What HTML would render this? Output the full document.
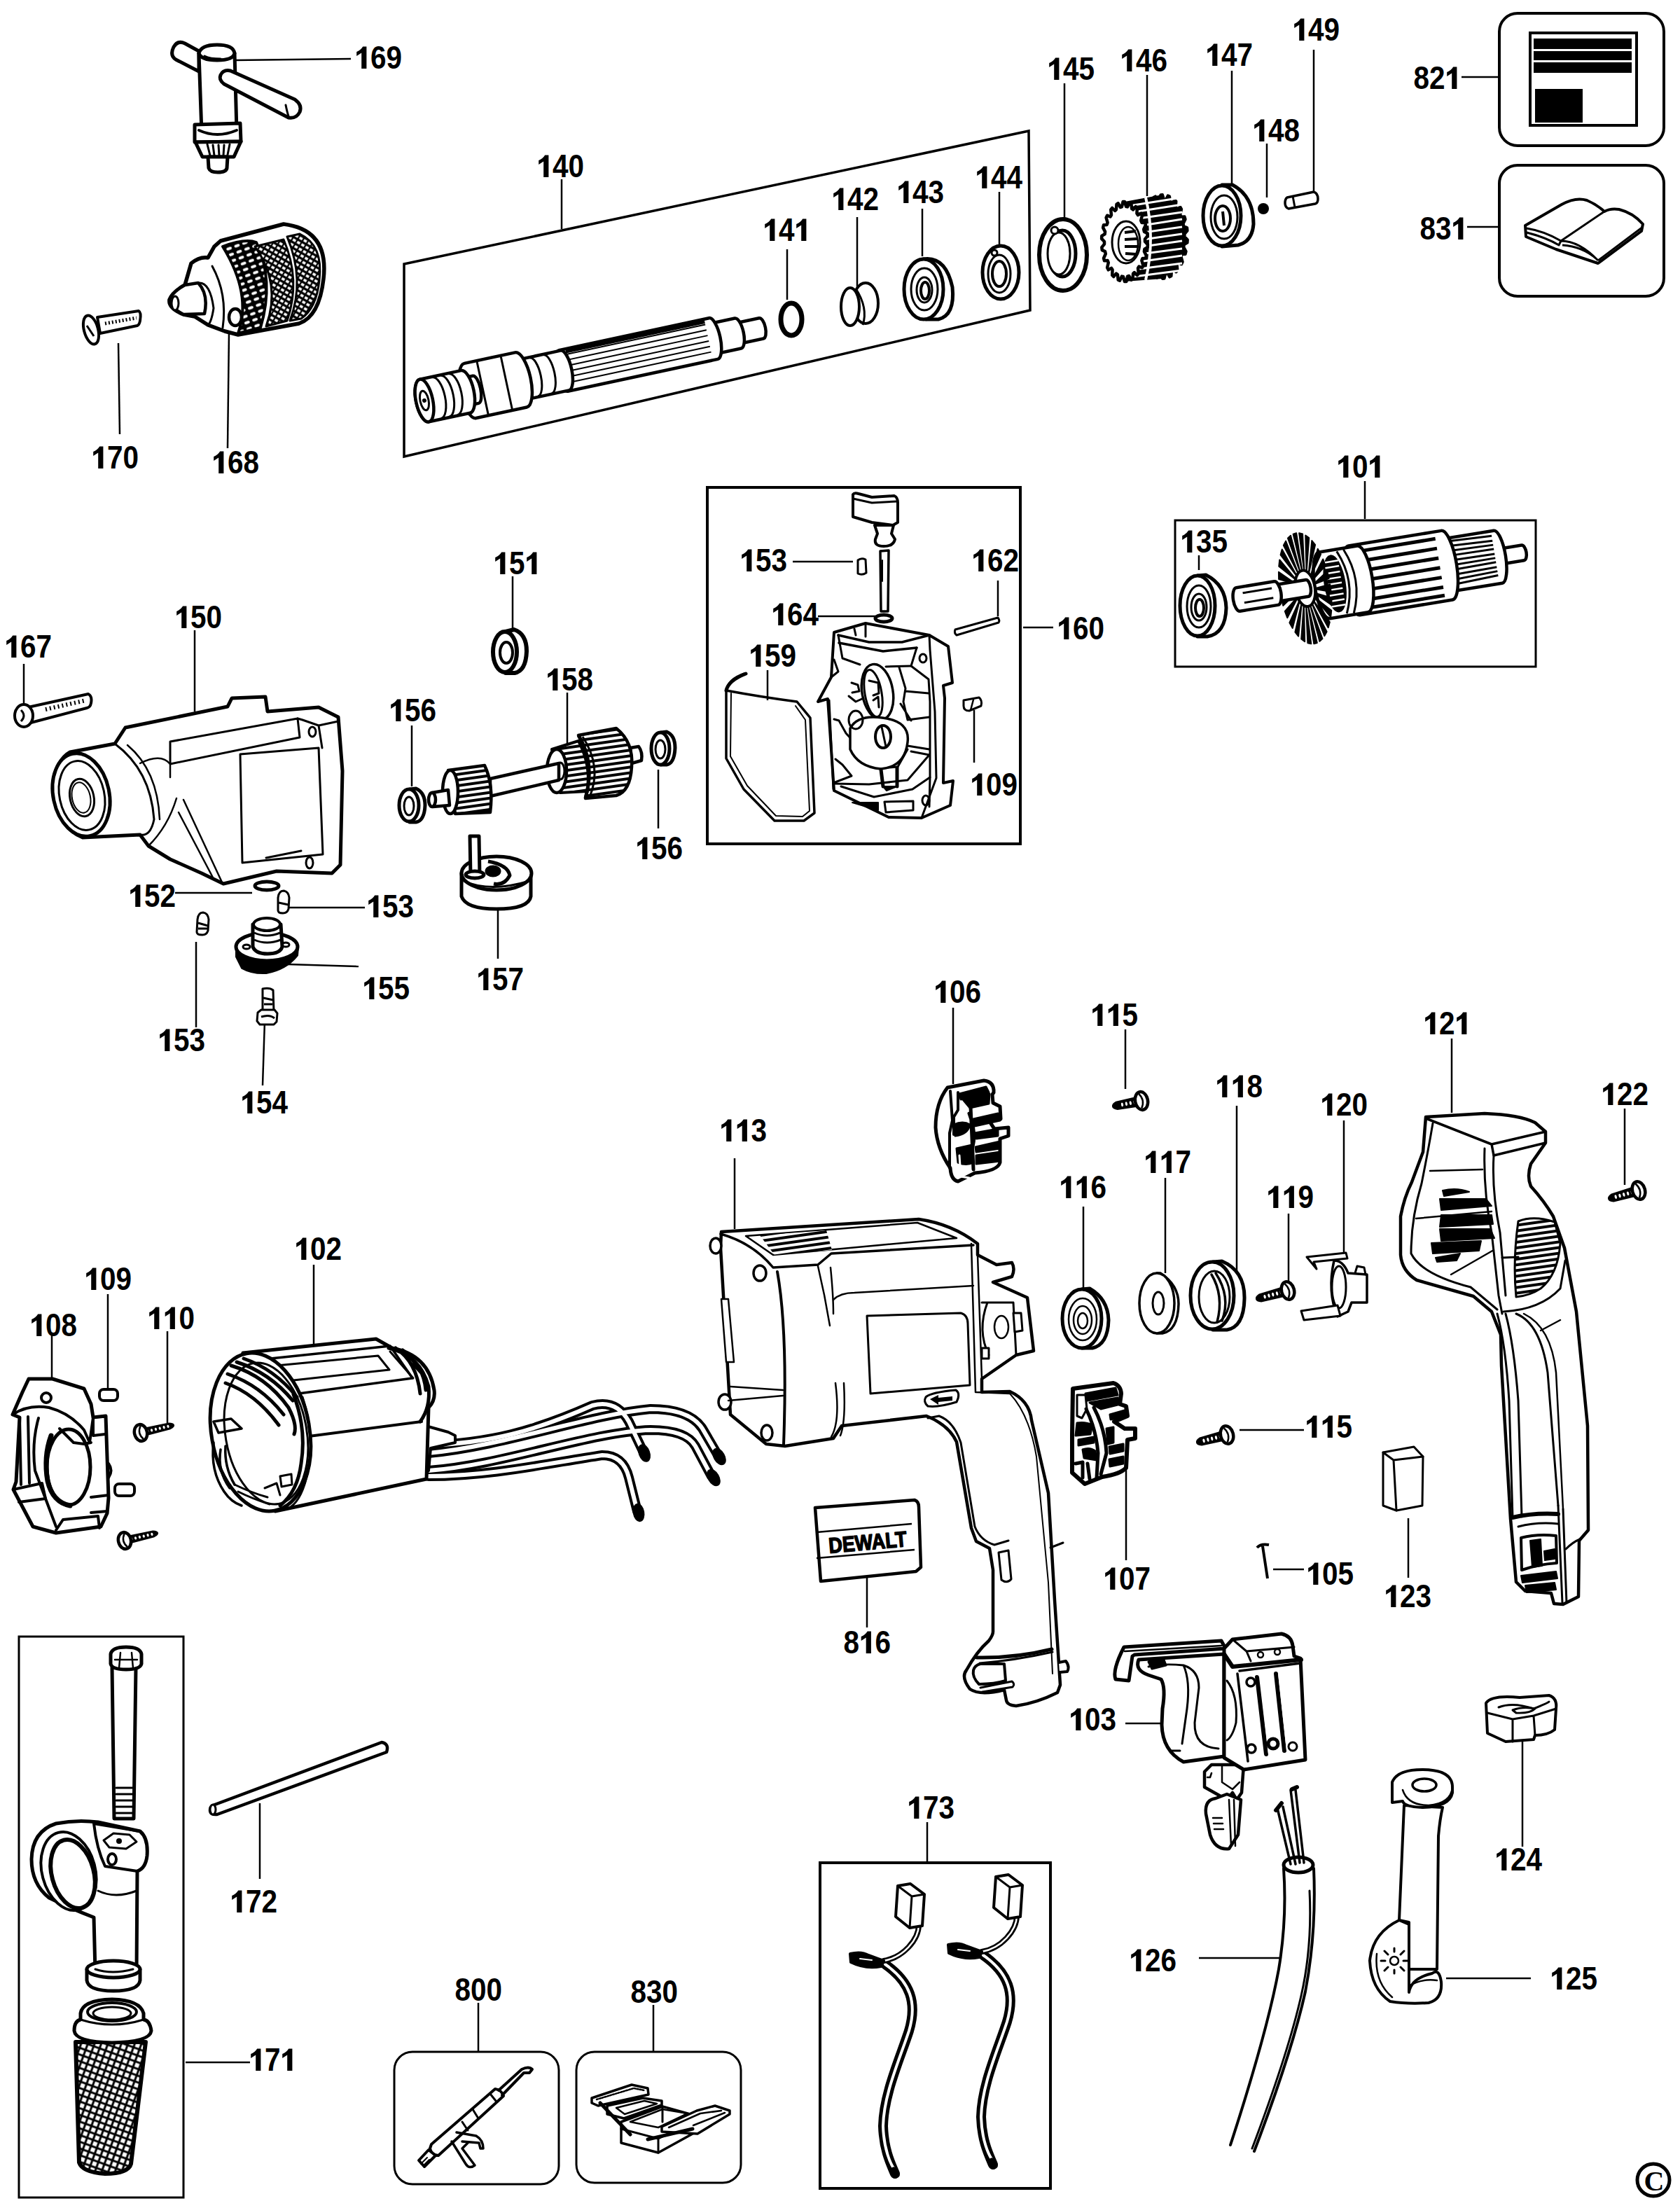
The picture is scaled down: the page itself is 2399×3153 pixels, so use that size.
<!DOCTYPE html><html><head><meta charset="utf-8"><style>html,body{margin:0;padding:0;background:#fff;}svg{display:block;}</style></head><body>
<svg width="2399" height="3153" viewBox="0 0 2399 3153">
<rect width="100%" height="100%" fill="#fff"/>
<g font-family="Liberation Sans, sans-serif" font-weight="bold" font-size="44" text-anchor="middle" fill="#000">
<path d="M516.2 66.5 L523.4 66.5 L523.4 98 L516.2 98 L516.2 75.5 L509.2 80 L509.2 74 Q514.7 72 518.2 66.5 Z" stroke="none"/>
<text transform="translate(540.2 98) scale(0.92 1.03)">6</text>
<text transform="translate(562.7 98) scale(0.92 1.03)">9</text>
<path d="M776.2 221.5 L783.4 221.5 L783.4 253 L776.2 253 L776.2 230.5 L769.2 235 L769.2 229 Q774.7 227 778.2 221.5 Z" stroke="none"/>
<text transform="translate(800.2 253) scale(0.92 1.03)">4</text>
<text transform="translate(822.7 253) scale(0.92 1.03)">0</text>
<path d="M1099.2 312.5 L1106.4 312.5 L1106.4 344 L1099.2 344 L1099.2 321.5 L1092.2 326 L1092.2 320 Q1097.7 318 1101.2 312.5 Z" stroke="none"/>
<text transform="translate(1123.2 344) scale(0.92 1.03)">4</text>
<path d="M1144.2 312.5 L1151.4 312.5 L1151.4 344 L1144.2 344 L1144.2 321.5 L1137.2 326 L1137.2 320 Q1142.7 318 1146.2 312.5 Z" stroke="none"/>
<path d="M1197.2 268.5 L1204.4 268.5 L1204.4 300 L1197.2 300 L1197.2 277.5 L1190.2 282 L1190.2 276 Q1195.7 274 1199.2 268.5 Z" stroke="none"/>
<text transform="translate(1221.2 300) scale(0.92 1.03)">4</text>
<text transform="translate(1243.7 300) scale(0.92 1.03)">2</text>
<path d="M1290.2 258.5 L1297.4 258.5 L1297.4 290 L1290.2 290 L1290.2 267.5 L1283.2 272 L1283.2 266 Q1288.7 264 1292.2 258.5 Z" stroke="none"/>
<text transform="translate(1314.2 290) scale(0.92 1.03)">4</text>
<text transform="translate(1336.7 290) scale(0.92 1.03)">3</text>
<path d="M1402.2 237.5 L1409.4 237.5 L1409.4 269 L1402.2 269 L1402.2 246.5 L1395.2 251 L1395.2 245 Q1400.7 243 1404.2 237.5 Z" stroke="none"/>
<text transform="translate(1426.2 269) scale(0.92 1.03)">4</text>
<text transform="translate(1448.7 269) scale(0.92 1.03)">4</text>
<path d="M1505.2 82.5 L1512.4 82.5 L1512.4 114 L1505.2 114 L1505.2 91.5 L1498.2 96 L1498.2 90 Q1503.7 88 1507.2 82.5 Z" stroke="none"/>
<text transform="translate(1529.2 114) scale(0.92 1.03)">4</text>
<text transform="translate(1551.7 114) scale(0.92 1.03)">5</text>
<path d="M1609.2 70.5 L1616.4 70.5 L1616.4 102 L1609.2 102 L1609.2 79.5 L1602.2 84 L1602.2 78 Q1607.7 76 1611.2 70.5 Z" stroke="none"/>
<text transform="translate(1633.2 102) scale(0.92 1.03)">4</text>
<text transform="translate(1655.7 102) scale(0.92 1.03)">6</text>
<path d="M1731.2 62.5 L1738.4 62.5 L1738.4 94 L1731.2 94 L1731.2 71.5 L1724.2 76 L1724.2 70 Q1729.7 68 1733.2 62.5 Z" stroke="none"/>
<text transform="translate(1755.2 94) scale(0.92 1.03)">4</text>
<text transform="translate(1777.7 94) scale(0.92 1.03)">7</text>
<path d="M1798.2 170.5 L1805.4 170.5 L1805.4 202 L1798.2 202 L1798.2 179.5 L1791.2 184 L1791.2 178 Q1796.7 176 1800.2 170.5 Z" stroke="none"/>
<text transform="translate(1822.2 202) scale(0.92 1.03)">4</text>
<text transform="translate(1844.7 202) scale(0.92 1.03)">8</text>
<path d="M1855.2 26.5 L1862.4 26.5 L1862.4 58 L1855.2 58 L1855.2 35.5 L1848.2 40 L1848.2 34 Q1853.7 32 1857.2 26.5 Z" stroke="none"/>
<text transform="translate(1879.2 58) scale(0.92 1.03)">4</text>
<text transform="translate(1901.7 58) scale(0.92 1.03)">9</text>
<text transform="translate(2029.7 127) scale(0.92 1.03)">8</text>
<text transform="translate(2052.2 127) scale(0.92 1.03)">2</text>
<path d="M2073.2 95.5 L2080.4 95.5 L2080.4 127 L2073.2 127 L2073.2 104.5 L2066.2 109 L2066.2 103 Q2071.7 101 2075.2 95.5 Z" stroke="none"/>
<text transform="translate(2038.7 342) scale(0.92 1.03)">8</text>
<text transform="translate(2061.2 342) scale(0.92 1.03)">3</text>
<path d="M2082.2 310.5 L2089.4 310.5 L2089.4 342 L2082.2 342 L2082.2 319.5 L2075.2 324 L2075.2 318 Q2080.7 316 2084.2 310.5 Z" stroke="none"/>
<path d="M140.2 637.5 L147.4 637.5 L147.4 669 L140.2 669 L140.2 646.5 L133.2 651 L133.2 645 Q138.7 643 142.2 637.5 Z" stroke="none"/>
<text transform="translate(164.2 669) scale(0.92 1.03)">7</text>
<text transform="translate(186.7 669) scale(0.92 1.03)">0</text>
<path d="M312.2 644.5 L319.4 644.5 L319.4 676 L312.2 676 L312.2 653.5 L305.2 658 L305.2 652 Q310.7 650 314.2 644.5 Z" stroke="none"/>
<text transform="translate(336.2 676) scale(0.92 1.03)">6</text>
<text transform="translate(358.7 676) scale(0.92 1.03)">8</text>
<path d="M1918.2 650.5 L1925.4 650.5 L1925.4 682 L1918.2 682 L1918.2 659.5 L1911.2 664 L1911.2 658 Q1916.7 656 1920.2 650.5 Z" stroke="none"/>
<text transform="translate(1942.2 682) scale(0.92 1.03)">0</text>
<path d="M1963.2 650.5 L1970.4 650.5 L1970.4 682 L1963.2 682 L1963.2 659.5 L1956.2 664 L1956.2 658 Q1961.7 656 1965.2 650.5 Z" stroke="none"/>
<path d="M1695.2 757.5 L1702.4 757.5 L1702.4 789 L1695.2 789 L1695.2 766.5 L1688.2 771 L1688.2 765 Q1693.7 763 1697.2 757.5 Z" stroke="none"/>
<text transform="translate(1719.2 789) scale(0.92 1.03)">3</text>
<text transform="translate(1741.7 789) scale(0.92 1.03)">5</text>
<path d="M714.2 788.5 L721.4 788.5 L721.4 820 L714.2 820 L714.2 797.5 L707.2 802 L707.2 796 Q712.7 794 716.2 788.5 Z" stroke="none"/>
<text transform="translate(738.2 820) scale(0.92 1.03)">5</text>
<path d="M759.2 788.5 L766.4 788.5 L766.4 820 L759.2 820 L759.2 797.5 L752.2 802 L752.2 796 Q757.7 794 761.2 788.5 Z" stroke="none"/>
<path d="M259.2 865.5 L266.4 865.5 L266.4 897 L259.2 897 L259.2 874.5 L252.2 879 L252.2 873 Q257.7 871 261.2 865.5 Z" stroke="none"/>
<text transform="translate(283.2 897) scale(0.92 1.03)">5</text>
<text transform="translate(305.7 897) scale(0.92 1.03)">0</text>
<path d="M16.2 907.5 L23.4 907.5 L23.4 939 L16.2 939 L16.2 916.5 L9.2 921 L9.2 915 Q14.7 913 18.2 907.5 Z" stroke="none"/>
<text transform="translate(40.2 939) scale(0.92 1.03)">6</text>
<text transform="translate(62.7 939) scale(0.92 1.03)">7</text>
<path d="M1066.2 784.5 L1073.4 784.5 L1073.4 816 L1066.2 816 L1066.2 793.5 L1059.2 798 L1059.2 792 Q1064.7 790 1068.2 784.5 Z" stroke="none"/>
<text transform="translate(1090.2 816) scale(0.92 1.03)">5</text>
<text transform="translate(1112.7 816) scale(0.92 1.03)">3</text>
<path d="M1397.2 784.5 L1404.4 784.5 L1404.4 816 L1397.2 816 L1397.2 793.5 L1390.2 798 L1390.2 792 Q1395.7 790 1399.2 784.5 Z" stroke="none"/>
<text transform="translate(1421.2 816) scale(0.92 1.03)">6</text>
<text transform="translate(1443.7 816) scale(0.92 1.03)">2</text>
<path d="M1111.2 861.5 L1118.4 861.5 L1118.4 893 L1111.2 893 L1111.2 870.5 L1104.2 875 L1104.2 869 Q1109.7 867 1113.2 861.5 Z" stroke="none"/>
<text transform="translate(1135.2 893) scale(0.92 1.03)">6</text>
<text transform="translate(1157.7 893) scale(0.92 1.03)">4</text>
<path d="M1519.2 881.5 L1526.4 881.5 L1526.4 913 L1519.2 913 L1519.2 890.5 L1512.2 895 L1512.2 889 Q1517.7 887 1521.2 881.5 Z" stroke="none"/>
<text transform="translate(1543.2 913) scale(0.92 1.03)">6</text>
<text transform="translate(1565.7 913) scale(0.92 1.03)">0</text>
<path d="M1079.2 920.5 L1086.4 920.5 L1086.4 952 L1079.2 952 L1079.2 929.5 L1072.2 934 L1072.2 928 Q1077.7 926 1081.2 920.5 Z" stroke="none"/>
<text transform="translate(1103.2 952) scale(0.92 1.03)">5</text>
<text transform="translate(1125.7 952) scale(0.92 1.03)">9</text>
<path d="M789.2 954.5 L796.4 954.5 L796.4 986 L789.2 986 L789.2 963.5 L782.2 968 L782.2 962 Q787.7 960 791.2 954.5 Z" stroke="none"/>
<text transform="translate(813.2 986) scale(0.92 1.03)">5</text>
<text transform="translate(835.7 986) scale(0.92 1.03)">8</text>
<path d="M565.2 998.5 L572.4 998.5 L572.4 1030 L565.2 1030 L565.2 1007.5 L558.2 1012 L558.2 1006 Q563.7 1004 567.2 998.5 Z" stroke="none"/>
<text transform="translate(589.2 1030) scale(0.92 1.03)">5</text>
<text transform="translate(611.7 1030) scale(0.92 1.03)">6</text>
<path d="M1395.2 1104.5 L1402.4 1104.5 L1402.4 1136 L1395.2 1136 L1395.2 1113.5 L1388.2 1118 L1388.2 1112 Q1393.7 1110 1397.2 1104.5 Z" stroke="none"/>
<text transform="translate(1419.2 1136) scale(0.92 1.03)">0</text>
<text transform="translate(1441.7 1136) scale(0.92 1.03)">9</text>
<path d="M917.2 1195.5 L924.4 1195.5 L924.4 1227 L917.2 1227 L917.2 1204.5 L910.2 1209 L910.2 1203 Q915.7 1201 919.2 1195.5 Z" stroke="none"/>
<text transform="translate(941.2 1227) scale(0.92 1.03)">5</text>
<text transform="translate(963.7 1227) scale(0.92 1.03)">6</text>
<path d="M193.2 1263.5 L200.4 1263.5 L200.4 1295 L193.2 1295 L193.2 1272.5 L186.2 1277 L186.2 1271 Q191.7 1269 195.2 1263.5 Z" stroke="none"/>
<text transform="translate(217.2 1295) scale(0.92 1.03)">5</text>
<text transform="translate(239.7 1295) scale(0.92 1.03)">2</text>
<path d="M533.2 1278.5 L540.4 1278.5 L540.4 1310 L533.2 1310 L533.2 1287.5 L526.2 1292 L526.2 1286 Q531.7 1284 535.2 1278.5 Z" stroke="none"/>
<text transform="translate(557.2 1310) scale(0.92 1.03)">5</text>
<text transform="translate(579.7 1310) scale(0.92 1.03)">3</text>
<path d="M527.2 1395.5 L534.4 1395.5 L534.4 1427 L527.2 1427 L527.2 1404.5 L520.2 1409 L520.2 1403 Q525.7 1401 529.2 1395.5 Z" stroke="none"/>
<text transform="translate(551.2 1427) scale(0.92 1.03)">5</text>
<text transform="translate(573.7 1427) scale(0.92 1.03)">5</text>
<path d="M690.2 1382.5 L697.4 1382.5 L697.4 1414 L690.2 1414 L690.2 1391.5 L683.2 1396 L683.2 1390 Q688.7 1388 692.2 1382.5 Z" stroke="none"/>
<text transform="translate(714.2 1414) scale(0.92 1.03)">5</text>
<text transform="translate(736.7 1414) scale(0.92 1.03)">7</text>
<path d="M235.2 1469.5 L242.4 1469.5 L242.4 1501 L235.2 1501 L235.2 1478.5 L228.2 1483 L228.2 1477 Q233.7 1475 237.2 1469.5 Z" stroke="none"/>
<text transform="translate(259.2 1501) scale(0.92 1.03)">5</text>
<text transform="translate(281.7 1501) scale(0.92 1.03)">3</text>
<path d="M353.2 1558.5 L360.4 1558.5 L360.4 1590 L353.2 1590 L353.2 1567.5 L346.2 1572 L346.2 1566 Q351.7 1564 355.2 1558.5 Z" stroke="none"/>
<text transform="translate(377.2 1590) scale(0.92 1.03)">5</text>
<text transform="translate(399.7 1590) scale(0.92 1.03)">4</text>
<path d="M1343.2 1400.5 L1350.4 1400.5 L1350.4 1432 L1343.2 1432 L1343.2 1409.5 L1336.2 1414 L1336.2 1408 Q1341.7 1406 1345.2 1400.5 Z" stroke="none"/>
<text transform="translate(1367.2 1432) scale(0.92 1.03)">0</text>
<text transform="translate(1389.7 1432) scale(0.92 1.03)">6</text>
<path d="M1567.2 1433.5 L1574.4 1433.5 L1574.4 1465 L1567.2 1465 L1567.2 1442.5 L1560.2 1447 L1560.2 1441 Q1565.7 1439 1569.2 1433.5 Z" stroke="none"/>
<path d="M1589.7 1433.5 L1596.9 1433.5 L1596.9 1465 L1589.7 1465 L1589.7 1442.5 L1582.7 1447 L1582.7 1441 Q1588.2 1439 1591.7 1433.5 Z" stroke="none"/>
<text transform="translate(1613.7 1465) scale(0.92 1.03)">5</text>
<path d="M2042.2 1445.5 L2049.4 1445.5 L2049.4 1477 L2042.2 1477 L2042.2 1454.5 L2035.2 1459 L2035.2 1453 Q2040.7 1451 2044.2 1445.5 Z" stroke="none"/>
<text transform="translate(2066.2 1477) scale(0.92 1.03)">2</text>
<path d="M2087.2 1445.5 L2094.4 1445.5 L2094.4 1477 L2087.2 1477 L2087.2 1454.5 L2080.2 1459 L2080.2 1453 Q2085.7 1451 2089.2 1445.5 Z" stroke="none"/>
<path d="M1745.2 1535.5 L1752.4 1535.5 L1752.4 1567 L1745.2 1567 L1745.2 1544.5 L1738.2 1549 L1738.2 1543 Q1743.7 1541 1747.2 1535.5 Z" stroke="none"/>
<path d="M1767.7 1535.5 L1774.9 1535.5 L1774.9 1567 L1767.7 1567 L1767.7 1544.5 L1760.7 1549 L1760.7 1543 Q1766.2 1541 1769.7 1535.5 Z" stroke="none"/>
<text transform="translate(1791.7 1567) scale(0.92 1.03)">8</text>
<path d="M2296.2 1546.5 L2303.4 1546.5 L2303.4 1578 L2296.2 1578 L2296.2 1555.5 L2289.2 1560 L2289.2 1554 Q2294.7 1552 2298.2 1546.5 Z" stroke="none"/>
<text transform="translate(2320.2 1578) scale(0.92 1.03)">2</text>
<text transform="translate(2342.7 1578) scale(0.92 1.03)">2</text>
<path d="M1895.2 1561.5 L1902.4 1561.5 L1902.4 1593 L1895.2 1593 L1895.2 1570.5 L1888.2 1575 L1888.2 1569 Q1893.7 1567 1897.2 1561.5 Z" stroke="none"/>
<text transform="translate(1919.2 1593) scale(0.92 1.03)">2</text>
<text transform="translate(1941.7 1593) scale(0.92 1.03)">0</text>
<path d="M1037.2 1598.5 L1044.4 1598.5 L1044.4 1630 L1037.2 1630 L1037.2 1607.5 L1030.2 1612 L1030.2 1606 Q1035.7 1604 1039.2 1598.5 Z" stroke="none"/>
<path d="M1059.7 1598.5 L1066.9 1598.5 L1066.9 1630 L1059.7 1630 L1059.7 1607.5 L1052.7 1612 L1052.7 1606 Q1058.2 1604 1061.7 1598.5 Z" stroke="none"/>
<text transform="translate(1083.7 1630) scale(0.92 1.03)">3</text>
<path d="M1643.2 1643.5 L1650.4 1643.5 L1650.4 1675 L1643.2 1675 L1643.2 1652.5 L1636.2 1657 L1636.2 1651 Q1641.7 1649 1645.2 1643.5 Z" stroke="none"/>
<path d="M1665.7 1643.5 L1672.9 1643.5 L1672.9 1675 L1665.7 1675 L1665.7 1652.5 L1658.7 1657 L1658.7 1651 Q1664.2 1649 1667.7 1643.5 Z" stroke="none"/>
<text transform="translate(1689.7 1675) scale(0.92 1.03)">7</text>
<path d="M1522.2 1679.5 L1529.4 1679.5 L1529.4 1711 L1522.2 1711 L1522.2 1688.5 L1515.2 1693 L1515.2 1687 Q1520.7 1685 1524.2 1679.5 Z" stroke="none"/>
<path d="M1544.7 1679.5 L1551.9 1679.5 L1551.9 1711 L1544.7 1711 L1544.7 1688.5 L1537.7 1693 L1537.7 1687 Q1543.2 1685 1546.7 1679.5 Z" stroke="none"/>
<text transform="translate(1568.7 1711) scale(0.92 1.03)">6</text>
<path d="M1818.2 1693.5 L1825.4 1693.5 L1825.4 1725 L1818.2 1725 L1818.2 1702.5 L1811.2 1707 L1811.2 1701 Q1816.7 1699 1820.2 1693.5 Z" stroke="none"/>
<path d="M1840.7 1693.5 L1847.9 1693.5 L1847.9 1725 L1840.7 1725 L1840.7 1702.5 L1833.7 1707 L1833.7 1701 Q1839.2 1699 1842.7 1693.5 Z" stroke="none"/>
<text transform="translate(1864.7 1725) scale(0.92 1.03)">9</text>
<path d="M430.2 1767.5 L437.4 1767.5 L437.4 1799 L430.2 1799 L430.2 1776.5 L423.2 1781 L423.2 1775 Q428.7 1773 432.2 1767.5 Z" stroke="none"/>
<text transform="translate(454.2 1799) scale(0.92 1.03)">0</text>
<text transform="translate(476.7 1799) scale(0.92 1.03)">2</text>
<path d="M130.2 1810.5 L137.4 1810.5 L137.4 1842 L130.2 1842 L130.2 1819.5 L123.2 1824 L123.2 1818 Q128.7 1816 132.2 1810.5 Z" stroke="none"/>
<text transform="translate(154.2 1842) scale(0.92 1.03)">0</text>
<text transform="translate(176.7 1842) scale(0.92 1.03)">9</text>
<path d="M220.2 1866.5 L227.4 1866.5 L227.4 1898 L220.2 1898 L220.2 1875.5 L213.2 1880 L213.2 1874 Q218.7 1872 222.2 1866.5 Z" stroke="none"/>
<path d="M242.7 1866.5 L249.9 1866.5 L249.9 1898 L242.7 1898 L242.7 1875.5 L235.7 1880 L235.7 1874 Q241.2 1872 244.7 1866.5 Z" stroke="none"/>
<text transform="translate(266.7 1898) scale(0.92 1.03)">0</text>
<path d="M52.2 1876.5 L59.4 1876.5 L59.4 1908 L52.2 1908 L52.2 1885.5 L45.2 1890 L45.2 1884 Q50.7 1882 54.2 1876.5 Z" stroke="none"/>
<text transform="translate(76.2 1908) scale(0.92 1.03)">0</text>
<text transform="translate(98.7 1908) scale(0.92 1.03)">8</text>
<path d="M1873.2 2021.5 L1880.4 2021.5 L1880.4 2053 L1873.2 2053 L1873.2 2030.5 L1866.2 2035 L1866.2 2029 Q1871.7 2027 1875.2 2021.5 Z" stroke="none"/>
<path d="M1895.7 2021.5 L1902.9 2021.5 L1902.9 2053 L1895.7 2053 L1895.7 2030.5 L1888.7 2035 L1888.7 2029 Q1894.2 2027 1897.7 2021.5 Z" stroke="none"/>
<text transform="translate(1919.7 2053) scale(0.92 1.03)">5</text>
<path d="M1585.2 2238.5 L1592.4 2238.5 L1592.4 2270 L1585.2 2270 L1585.2 2247.5 L1578.2 2252 L1578.2 2246 Q1583.7 2244 1587.2 2238.5 Z" stroke="none"/>
<text transform="translate(1609.2 2270) scale(0.92 1.03)">0</text>
<text transform="translate(1631.7 2270) scale(0.92 1.03)">7</text>
<path d="M1875.2 2231.5 L1882.4 2231.5 L1882.4 2263 L1875.2 2263 L1875.2 2240.5 L1868.2 2245 L1868.2 2239 Q1873.7 2237 1877.2 2231.5 Z" stroke="none"/>
<text transform="translate(1899.2 2263) scale(0.92 1.03)">0</text>
<text transform="translate(1921.7 2263) scale(0.92 1.03)">5</text>
<path d="M1986.2 2263.5 L1993.4 2263.5 L1993.4 2295 L1986.2 2295 L1986.2 2272.5 L1979.2 2277 L1979.2 2271 Q1984.7 2269 1988.2 2263.5 Z" stroke="none"/>
<text transform="translate(2010.2 2295) scale(0.92 1.03)">2</text>
<text transform="translate(2032.7 2295) scale(0.92 1.03)">3</text>
<text transform="translate(1215.7 2361) scale(0.92 1.03)">8</text>
<path d="M1236.7 2329.5 L1243.9 2329.5 L1243.9 2361 L1236.7 2361 L1236.7 2338.5 L1229.7 2343 L1229.7 2337 Q1235.2 2335 1238.7 2329.5 Z" stroke="none"/>
<text transform="translate(1260.7 2361) scale(0.92 1.03)">6</text>
<path d="M1536.2 2439.5 L1543.4 2439.5 L1543.4 2471 L1536.2 2471 L1536.2 2448.5 L1529.2 2453 L1529.2 2447 Q1534.7 2445 1538.2 2439.5 Z" stroke="none"/>
<text transform="translate(1560.2 2471) scale(0.92 1.03)">0</text>
<text transform="translate(1582.7 2471) scale(0.92 1.03)">3</text>
<path d="M1305.2 2565.5 L1312.4 2565.5 L1312.4 2597 L1305.2 2597 L1305.2 2574.5 L1298.2 2579 L1298.2 2573 Q1303.7 2571 1307.2 2565.5 Z" stroke="none"/>
<text transform="translate(1329.2 2597) scale(0.92 1.03)">7</text>
<text transform="translate(1351.7 2597) scale(0.92 1.03)">3</text>
<path d="M2144.2 2639.5 L2151.4 2639.5 L2151.4 2671 L2144.2 2671 L2144.2 2648.5 L2137.2 2653 L2137.2 2647 Q2142.7 2645 2146.2 2639.5 Z" stroke="none"/>
<text transform="translate(2168.2 2671) scale(0.92 1.03)">2</text>
<text transform="translate(2190.7 2671) scale(0.92 1.03)">4</text>
<path d="M338.2 2699.5 L345.4 2699.5 L345.4 2731 L338.2 2731 L338.2 2708.5 L331.2 2713 L331.2 2707 Q336.7 2705 340.2 2699.5 Z" stroke="none"/>
<text transform="translate(362.2 2731) scale(0.92 1.03)">7</text>
<text transform="translate(384.7 2731) scale(0.92 1.03)">2</text>
<text transform="translate(660.7 2857) scale(0.92 1.03)">8</text>
<text transform="translate(683.2 2857) scale(0.92 1.03)">0</text>
<text transform="translate(705.7 2857) scale(0.92 1.03)">0</text>
<text transform="translate(911.7 2860) scale(0.92 1.03)">8</text>
<text transform="translate(934.2 2860) scale(0.92 1.03)">3</text>
<text transform="translate(956.7 2860) scale(0.92 1.03)">0</text>
<path d="M1622.2 2783.5 L1629.4 2783.5 L1629.4 2815 L1622.2 2815 L1622.2 2792.5 L1615.2 2797 L1615.2 2791 Q1620.7 2789 1624.2 2783.5 Z" stroke="none"/>
<text transform="translate(1646.2 2815) scale(0.92 1.03)">2</text>
<text transform="translate(1668.7 2815) scale(0.92 1.03)">6</text>
<path d="M2223.2 2809.5 L2230.4 2809.5 L2230.4 2841 L2223.2 2841 L2223.2 2818.5 L2216.2 2823 L2216.2 2817 Q2221.7 2815 2225.2 2809.5 Z" stroke="none"/>
<text transform="translate(2247.2 2841) scale(0.92 1.03)">2</text>
<text transform="translate(2269.7 2841) scale(0.92 1.03)">5</text>
<path d="M365.2 2925.5 L372.4 2925.5 L372.4 2957 L365.2 2957 L365.2 2934.5 L358.2 2939 L358.2 2933 Q363.7 2931 367.2 2925.5 Z" stroke="none"/>
<text transform="translate(389.2 2957) scale(0.92 1.03)">7</text>
<path d="M410.2 2925.5 L417.4 2925.5 L417.4 2957 L410.2 2957 L410.2 2934.5 L403.2 2939 L403.2 2933 Q408.7 2931 412.2 2925.5 Z" stroke="none"/>
</g>
<g stroke="#000" stroke-width="2.5" fill="none">
<line x1="335" y1="86" x2="501" y2="84"/>
<line x1="802" y1="256" x2="802" y2="327"/>
<line x1="1124" y1="356" x2="1124" y2="428"/>
<line x1="1224" y1="310" x2="1224" y2="417"/>
<line x1="1317" y1="298" x2="1317" y2="366"/>
<line x1="1427" y1="274" x2="1427" y2="363"/>
<line x1="1520" y1="119" x2="1520" y2="339"/>
<line x1="1638" y1="107" x2="1638" y2="280"/>
<line x1="1759" y1="101" x2="1759" y2="268"/>
<line x1="1809" y1="205" x2="1809" y2="282"/>
<line x1="1876" y1="71" x2="1876" y2="273"/>
<line x1="2087" y1="110" x2="2140" y2="110"/>
<line x1="2095" y1="324" x2="2140" y2="324"/>
<line x1="169" y1="490" x2="171" y2="620"/>
<line x1="327" y1="475" x2="325" y2="640"/>
<line x1="1949" y1="687" x2="1949" y2="741"/>
<line x1="1712" y1="793" x2="1712" y2="814"/>
<line x1="732" y1="823" x2="732" y2="897"/>
<line x1="278" y1="900" x2="278" y2="1016"/>
<line x1="34" y1="948" x2="34" y2="1007"/>
<line x1="1132" y1="802" x2="1218" y2="802"/>
<line x1="1425" y1="829" x2="1425" y2="880"/>
<line x1="1168" y1="880" x2="1250" y2="880"/>
<line x1="1461" y1="896" x2="1504" y2="896"/>
<line x1="1096" y1="957" x2="1096" y2="1000"/>
<line x1="810" y1="989" x2="810" y2="1064"/>
<line x1="588" y1="1036" x2="588" y2="1123"/>
<line x1="1391" y1="1014" x2="1391" y2="1089"/>
<line x1="940" y1="1099" x2="940" y2="1183"/>
<line x1="250" y1="1275" x2="360" y2="1275"/>
<line x1="411" y1="1296" x2="521" y2="1296"/>
<line x1="411" y1="1377" x2="512" y2="1380"/>
<line x1="711" y1="1298" x2="711" y2="1369"/>
<line x1="280" y1="1345" x2="280" y2="1467"/>
<line x1="378" y1="1458" x2="375" y2="1550"/>
<line x1="1361" y1="1439" x2="1361" y2="1548"/>
<line x1="1607" y1="1470" x2="1607" y2="1555"/>
<line x1="2073" y1="1483" x2="2073" y2="1589"/>
<line x1="2320" y1="1583" x2="2320" y2="1692"/>
<line x1="1766" y1="1579" x2="1766" y2="1815"/>
<line x1="1664" y1="1682" x2="1664" y2="1818"/>
<line x1="1547" y1="1723" x2="1547" y2="1839"/>
<line x1="1840" y1="1733" x2="1840" y2="1829"/>
<line x1="1919" y1="1600" x2="1919" y2="1795"/>
<line x1="1049" y1="1654" x2="1049" y2="1755"/>
<line x1="448" y1="1806" x2="448" y2="1920"/>
<line x1="154" y1="1848" x2="154" y2="1982"/>
<line x1="239" y1="1901" x2="239" y2="2032"/>
<line x1="74" y1="1907" x2="74" y2="1970"/>
<line x1="1770" y1="2042" x2="1862" y2="2042"/>
<line x1="1608" y1="2044" x2="1608" y2="2228"/>
<line x1="1818" y1="2241" x2="1862" y2="2241"/>
<line x1="2011" y1="2168" x2="2011" y2="2253"/>
<line x1="1238" y1="2252" x2="1238" y2="2324"/>
<line x1="1607" y1="2461" x2="1659" y2="2461"/>
<line x1="2174" y1="2486" x2="2174" y2="2637"/>
<line x1="1712" y1="2796" x2="1827" y2="2796"/>
<line x1="2065" y1="2825" x2="2186" y2="2825"/>
<line x1="1324" y1="2602" x2="1324" y2="2659"/>
<line x1="371" y1="2575" x2="371" y2="2683"/>
<line x1="683" y1="2860" x2="683" y2="2929"/>
<line x1="933" y1="2863" x2="933" y2="2929"/>
<line x1="265" y1="2945" x2="357" y2="2945"/>
</g>
<g stroke="#000" stroke-width="4" fill="none">
<path d="M577 377 L1469 187 L1471 443 L577 652 Z" stroke-width="3.5"/>
<rect x="2141" y="19" width="235" height="189" rx="26"/>
<rect x="2141" y="236" width="235" height="187" rx="26"/>
<rect x="1010" y="696" width="447" height="509"/>
<rect x="1678" y="743" width="515" height="209" stroke-width="3"/>
<rect x="27" y="2337" width="235" height="801" stroke-width="3"/>
<rect x="563" y="2930" width="235" height="189" rx="26" stroke-width="3"/>
<rect x="823" y="2930" width="235" height="187" rx="26" stroke-width="3"/>
<rect x="1171" y="2660" width="329" height="465"/>
</g>
<!-- a_defs.svg -->
<defs>
<pattern id="knurl" patternUnits="userSpaceOnUse" width="7" height="7" patternTransform="rotate(30)">
<rect width="7" height="7" fill="#000"/>
<rect x="1.2" y="1.2" width="4.6" height="3.6" fill="#fff"/>
</pattern>
<pattern id="mesh" patternUnits="userSpaceOnUse" width="9" height="9" patternTransform="rotate(20)">
<rect width="9" height="9" fill="#000"/>
<rect x="1.5" y="1.5" width="6" height="6" fill="#fff"/>
</pattern>
<pattern id="vents" patternUnits="userSpaceOnUse" width="8" height="8" patternTransform="rotate(-8)">
<rect width="8" height="8" fill="#fff"/>
<rect y="0" width="8" height="4" fill="#000"/>
</pattern>
<pattern id="teeth" patternUnits="userSpaceOnUse" width="12" height="9" patternTransform="rotate(-20)">
<rect width="12" height="9" fill="#000"/>
<rect x="2" y="2.5" width="8" height="4" rx="2" fill="#fff"/>
</pattern>
</defs>

<!-- p101.svg -->
<g stroke="#000" stroke-width="4.5" fill="#fff" stroke-linejoin="round">
<path d="M1710 822 L1722 821 Q1750 835 1751 868 Q1750 905 1724 909 L1710 909 Z" stroke-width="5"/>
<ellipse cx="1710" cy="865" rx="25" ry="43" stroke-width="5"/>
<ellipse cx="1712" cy="866" rx="17" ry="30" stroke-width="3"/>
<ellipse cx="1712" cy="867" rx="11" ry="19" stroke-width="3"/>
<ellipse cx="1713" cy="868" rx="6" ry="12" stroke-width="4"/>
<g transform="translate(1768 856) rotate(-9.3)">
<path d="M372 -11 L412 -11 A5.0 11 0 0 1 412 11 L372 11 A5.0 11 0 0 1 372 -11 Z" stroke-width="4.5" fill="#fff"/>
<path d="M298 -38 L376 -38 A11.0 38 0 0 1 376 38 L298 38 A11.0 38 0 0 1 298 -38 Z" stroke-width="4.5" fill="#fff"/>
<path d="M302 -34 L372 -31" stroke-width="3"/>
<path d="M302 -27 L372 -24" stroke-width="3"/>
<path d="M302 -20 L372 -18" stroke-width="3"/>
<path d="M302 -13 L372 -12" stroke-width="3"/>
<path d="M302 -6 L372 -5" stroke-width="3"/>
<path d="M302 1 L372 1" stroke-width="3"/>
<path d="M302 8 L372 7" stroke-width="3"/>
<path d="M302 15 L372 14" stroke-width="3"/>
<path d="M302 22 L372 20" stroke-width="3"/>
<path d="M302 29 L372 26" stroke-width="3"/>
<path d="M168 -50 L302 -50 A14.0 50 0 0 1 302 50 L168 50 A14.0 50 0 0 1 168 -50 Z" stroke-width="4.5" fill="#fff"/>
<path d="M185 -40 L292 -40" stroke-width="5"/>
<path d="M185 -26 L292 -26" stroke-width="5"/>
<path d="M185 -12 L292 -12" stroke-width="5"/>
<path d="M185 2 L292 2" stroke-width="5"/>
<path d="M185 16 L292 16" stroke-width="5"/>
<path d="M185 30 L292 30" stroke-width="5"/>
<path d="M185 42 L292 42" stroke-width="5"/>
<path d="M125 -48 L180 -48 A14.0 48 0 0 1 180 48 L125 48 A14.0 48 0 0 1 125 -48 Z" stroke-width="4.5" fill="#fff"/>
<ellipse cx="140" cy="0" rx="14" ry="40" fill="#000" stroke-width="3"/>
<path d="M130 -32 L150 -32" stroke="#fff" stroke-width="2.5"/>
<path d="M130 -24 L150 -24" stroke="#fff" stroke-width="2.5"/>
<path d="M130 -16 L150 -16" stroke="#fff" stroke-width="2.5"/>
<path d="M130 -8 L150 -8" stroke="#fff" stroke-width="2.5"/>
<path d="M130 0 L150 0" stroke="#fff" stroke-width="2.5"/>
<path d="M130 8 L150 8" stroke="#fff" stroke-width="2.5"/>
<path d="M130 16 L150 16" stroke="#fff" stroke-width="2.5"/>
<path d="M130 24 L150 24" stroke="#fff" stroke-width="2.5"/>
<path d="M130 32 L150 32" stroke="#fff" stroke-width="2.5"/>
<path d="M150 -45 Q170 0 150 45 M160 -46 Q180 0 160 46" fill="none" stroke-width="3"/>
<path d="M108.9 2.4 L133.0 0.0 L132.7 10.6 Z" fill="#000" stroke-width="2"/>
<path d="M108.3 8.0 L132.0 19.1 L130.5 29.3 Z" fill="#000" stroke-width="2"/>
<path d="M107.0 13.2 L128.9 37.2 L126.4 46.2 Z" fill="#000" stroke-width="2"/>
<path d="M105.1 17.6 L123.9 53.0 L120.5 60.5 Z" fill="#000" stroke-width="2"/>
<path d="M102.8 21.0 L117.5 65.8 L113.3 71.3 Z" fill="#000" stroke-width="2"/>
<path d="M100.1 23.2 L109.8 74.8 L105.2 77.9 Z" fill="#000" stroke-width="2"/>
<path d="M97.2 24.0 L101.3 79.4 L96.6 80.0 Z" fill="#000" stroke-width="2"/>
<path d="M94.4 23.4 L92.7 79.4 L88.0 77.4 Z" fill="#000" stroke-width="2"/>
<path d="M91.6 21.5 L84.2 74.8 L79.9 70.4 Z" fill="#000" stroke-width="2"/>
<path d="M89.2 18.3 L76.5 65.8 L72.8 59.2 Z" fill="#000" stroke-width="2"/>
<path d="M87.3 14.0 L70.1 53.0 L67.1 44.6 Z" fill="#000" stroke-width="2"/>
<path d="M85.9 9.0 L65.1 37.2 L63.2 27.5 Z" fill="#000" stroke-width="2"/>
<path d="M85.1 3.4 L62.0 19.1 L61.2 8.7 Z" fill="#000" stroke-width="2"/>
<path d="M85.1 -2.4 L61.0 -0.0 L61.3 -10.6 Z" fill="#000" stroke-width="2"/>
<path d="M85.7 -8.0 L62.0 -19.1 L63.5 -29.3 Z" fill="#000" stroke-width="2"/>
<path d="M87.0 -13.2 L65.1 -37.2 L67.6 -46.2 Z" fill="#000" stroke-width="2"/>
<path d="M88.9 -17.6 L70.1 -53.0 L73.5 -60.5 Z" fill="#000" stroke-width="2"/>
<path d="M91.2 -21.0 L76.5 -65.8 L80.7 -71.3 Z" fill="#000" stroke-width="2"/>
<path d="M93.9 -23.2 L84.2 -74.8 L88.8 -77.9 Z" fill="#000" stroke-width="2"/>
<path d="M96.8 -24.0 L92.7 -79.4 L97.4 -80.0 Z" fill="#000" stroke-width="2"/>
<path d="M99.6 -23.4 L101.3 -79.4 L106.0 -77.4 Z" fill="#000" stroke-width="2"/>
<path d="M102.4 -21.5 L109.8 -74.8 L114.1 -70.4 Z" fill="#000" stroke-width="2"/>
<path d="M104.8 -18.3 L117.5 -65.8 L121.2 -59.2 Z" fill="#000" stroke-width="2"/>
<path d="M106.7 -14.0 L123.9 -53.0 L126.9 -44.6 Z" fill="#000" stroke-width="2"/>
<path d="M108.1 -9.0 L128.9 -37.2 L130.8 -27.5 Z" fill="#000" stroke-width="2"/>
<path d="M108.9 -3.4 L132.0 -19.1 L132.8 -8.7 Z" fill="#000" stroke-width="2"/>
<ellipse cx="97" cy="0" rx="14" ry="26" stroke-width="4"/>
<path d="M50 -12 L100 -12 A5.0 12 0 0 1 100 12 L50 12 A5.0 12 0 0 1 50 -12 Z" stroke-width="4.5" fill="#fff"/>
<path d="M0 -17 L55 -17 A7.0 17 0 0 1 55 17 L0 17 A7.0 17 0 0 1 0 -17 Z" stroke-width="4.5" fill="#fff"/>
<path d="M8 -8 L50 -8 M8 6 L50 6" stroke-width="3"/>
</g></g>
<!-- p102.svg -->
<g stroke="#000" stroke-width="4.5" fill="#fff" stroke-linejoin="round" stroke-linecap="round">
<g fill="none">
<path id="w1" d="M612 2064 C700 2060 760 2045 846 2007 Q880 1998 898 2030 L918 2072" stroke-width="14"/>
<path d="M612 2075 C720 2065 840 2020 929 2012 Q985 2012 1003 2040 L1024 2076" stroke-width="14"/>
<path d="M612 2100 C720 2092 840 2045 929 2042 Q980 2042 993 2065 L1016 2108" stroke-width="14"/>
<path d="M612 2108 C700 2108 780 2090 860 2078 Q890 2078 898 2110 L910 2158" stroke-width="14"/>
<g stroke="#fff" stroke-width="6">
<path d="M612 2064 C700 2060 760 2045 846 2007 Q880 1998 898 2030 L918 2072"/>
<path d="M612 2075 C720 2065 840 2020 929 2012 Q985 2012 1003 2040 L1024 2076"/>
<path d="M612 2100 C720 2092 840 2045 929 2042 Q980 2042 993 2065 L1016 2108"/>
<path d="M612 2108 C700 2108 780 2090 860 2078 Q890 2078 898 2110 L910 2158"/>
</g>
</g>
<ellipse cx="920" cy="2075" rx="6" ry="11" transform="rotate(-20 920 2075)" fill="#000"/>
<ellipse cx="1027" cy="2080" rx="6" ry="11" transform="rotate(-30 1027 2080)" fill="#000"/>
<ellipse cx="1019" cy="2110" rx="6" ry="11" transform="rotate(-30 1019 2110)" fill="#000"/>
<ellipse cx="912" cy="2160" rx="6" ry="11" transform="rotate(-10 912 2160)" fill="#000"/>
<path d="M604 2035 L640 2045 L650 2050 L650 2060 L615 2068 L612 2100 L600 2112 Z" stroke-width="4"/>
<path d="M347 1932 L537 1912 L560 1925 Q612 1935 620 1985 Q622 2000 612 2010 L609 2112 L393 2158 Z" stroke-width="5"/>
<path d="M367 1942 L557 1922 L589 1968 L419 1991 Z" fill="none" stroke-width="3.5"/>
<path d="M395 1950 L540 1936 L556 1956 L410 1972 Z" fill="none" stroke-width="3"/>
<path d="M426 2053 L602 2030" fill="none" stroke-width="4"/>
<path d="M555 1925 Q600 1935 612 1980 Q615 2010 600 2030 M565 1925 Q595 1945 600 1990 M575 1928 Q605 1950 608 1985" fill="none" stroke-width="5"/>
<path d="M557 1930 L590 1968 M570 1928 L600 1960 M580 1932 L606 1965" fill="none" stroke-width="3"/>
<ellipse cx="372" cy="2045" rx="70" ry="114" transform="rotate(-10 372 2045)" stroke-width="5"/>
<ellipse cx="380" cy="2047" rx="58" ry="102" transform="rotate(-10 380 2047)" stroke-width="3"/>
<path d="M419 1991 Q438 2040 430 2090 Q425 2130 400 2150" fill="none" stroke-width="5"/>
<path d="M432 1995 Q450 2050 440 2100 Q432 2140 415 2152" fill="none" stroke-width="3"/>
<path d="M330 1950 Q380 1965 412 2010 Q425 2035 420 2048 M338 1945 Q385 1960 418 2000 M348 1940 Q392 1955 424 1995 M325 1962 Q372 1978 405 2020 M322 1975 Q365 1990 398 2035" fill="none" stroke-width="5"/>
<path d="M305 2030 L330 2026 L345 2040 L312 2046 Z" fill="none" stroke-width="3.5"/>
<path d="M305 2060 Q300 2100 320 2130 Q330 2145 345 2150 M315 2070 Q310 2100 328 2125 M322 2065 Q320 2095 335 2120" fill="none" stroke-width="3.5"/>
<path d="M340 2130 Q360 2140 385 2148 M335 2120 Q360 2132 382 2138" fill="none" stroke-width="3"/>
<path d="M400 2108 L416 2105 L417 2120 L402 2123 Z" stroke-width="3"/>
<path d="M378 2125 L395 2118 L400 2135" fill="none" stroke-width="3"/>
</g>

<!-- p103.svg -->
<g stroke="#000" stroke-width="5" fill="#fff" stroke-linejoin="round" stroke-linecap="round">
<path d="M1730 2520 L1720 2530 L1720 2552 L1752 2570 L1760 2560 L1766 2570 L1773 2560 L1776 2520 Z" stroke-width="4.5"/>
<path d="M1724 2538 L1728 2538 L1730 2532 M1745 2520 L1745 2545 L1760 2555 L1770 2545" fill="none" stroke-width="2.5"/>
<path d="M1736 2568 Q1720 2570 1722 2590 L1728 2620 Q1735 2642 1755 2640 L1768 2620 L1772 2570 L1752 2562 Z" stroke-width="4.5"/>
<path d="M1732 2596 L1745 2596 M1733 2604 L1746 2604 M1734 2612 L1747 2612 M1755 2570 L1758 2636 M1762 2570 L1764 2636" stroke-width="2.5"/>
<path d="M1626 2370 Q1620 2385 1640 2392 L1658 2398 Q1665 2410 1660 2440 L1659 2463 Q1660 2500 1690 2516 L1748 2508 L1748 2362 Z" stroke-width="5"/>
<path d="M1640 2380 Q1660 2375 1690 2378 Q1712 2385 1712 2410 L1706 2460 Q1705 2495 1740 2497 M1690 2378 Q1700 2400 1695 2440 L1688 2490 M1672 2500 L1685 2500" fill="none" stroke-width="3"/>
<path d="M1640 2373 Q1645 2368 1662 2370 L1665 2378 L1645 2383 Z" fill="#000" stroke-width="3"/>
<path d="M1605 2352 L1744 2343 L1750 2354 L1620 2363 L1617 2365 L1612 2400 L1593 2398 Q1588 2385 1605 2352 Z" stroke-width="5"/>
<path d="M1606 2358 L1744 2350" fill="none" stroke-width="2.5"/>
<path d="M1748 2354 L1760 2341 L1830 2333 Q1844 2336 1846 2350 L1848 2365 L1857 2368 L1864 2513 L1776 2527 L1748 2510 Z" stroke-width="5"/>
<path d="M1760 2341 L1780 2358 L1848 2352 M1780 2358 L1786 2372" fill="none" stroke-width="3"/>
<path d="M1748 2362 L1760 2380 L1858 2370" fill="none" stroke-width="6"/>
<path d="M1767 2390 L1782 2515 M1770 2386 L1857 2375" fill="none" stroke-width="3.5"/>
<circle cx="1800" cy="2363" r="4" stroke-width="2.5"/>
<circle cx="1824" cy="2359" r="4" stroke-width="2.5"/>
<path d="M1795 2395 L1808 2505 M1822 2390 L1834 2500" fill="none" stroke-width="6"/>
<path d="M1800 2395 L1812 2505 M1826 2390 L1838 2500" fill="none" stroke="#fff" stroke-width="2"/>
<circle cx="1786" cy="2402" r="6" stroke-width="3.5"/>
<circle cx="1787" cy="2497" r="6" stroke-width="3.5"/>
<circle cx="1818" cy="2490" r="7" stroke-width="5"/>
<circle cx="1846" cy="2494" r="6" stroke-width="3"/>
<path d="M1752 2400 Q1768 2420 1765 2460 Q1760 2480 1752 2485" fill="none" stroke-width="3"/>
</g>

<!-- p106.svg -->
<g stroke="#000" stroke-width="5" fill="#fff" stroke-linejoin="round" stroke-linecap="round">
<path d="M1353 1553 L1405 1543 Q1420 1545 1419 1560 L1417 1563 L1418 1575 L1428 1580 L1429 1598 L1412 1600 L1420 1612 L1440 1610 L1440 1622 L1428 1626 L1428 1660 Q1425 1672 1392 1675 L1368 1687 Q1358 1685 1357 1668 Q1338 1640 1336 1610 Q1336 1575 1353 1553 Z"/>
<path d="M1357 1558 L1360 1600 L1356 1618 L1356 1668 M1368 1560 L1368 1585 L1362 1595 L1362 1620" fill="none" stroke-width="4"/>
<path d="M1370 1562 L1408 1552 L1412 1560 L1372 1570 Z" fill="#000" stroke-width="3"/>
<path d="M1375 1570 L1413 1562 L1412 1576 L1385 1582 Z" fill="#000" stroke-width="3"/>
<path d="M1386 1580 L1390 1670 M1384 1590 Q1395 1620 1388 1640" fill="none" stroke-width="5"/>
<path d="M1390 1598 L1425 1590 L1428 1600 L1392 1608 Z" fill="#000" stroke-width="3"/>
<path d="M1392 1618 L1425 1612 L1425 1622 L1394 1626 Z" fill="#000" stroke-width="3"/>
<path d="M1393 1638 L1428 1630 L1428 1640 L1394 1645 Z" fill="#000" stroke-width="3"/>
<path d="M1394 1650 L1428 1645 L1428 1658 L1394 1662 Z" fill="#000" stroke-width="3"/>
<path d="M1362 1606 Q1375 1600 1385 1606 Q1382 1620 1364 1622 Z" fill="#000" stroke-width="3"/>
<path d="M1366 1640 L1388 1635 L1390 1660 Q1380 1665 1368 1660 Z" fill="#000" stroke-width="3"/>
<path d="M1370 1650 L1372 1680 L1384 1682" fill="none" stroke="#fff" stroke-width="3"/>
</g>

<!-- p107.svg -->
<g stroke="#000" stroke-width="5" fill="#fff" stroke-linejoin="round" stroke-linecap="round">
<path d="M1532 1983 L1590 1975 Q1600 1978 1601 1990 L1599 2005 L1608 2008 L1610 2022 L1591 2030 L1606 2040 L1621 2040 L1621 2054 L1610 2056 L1608 2096 Q1600 2105 1574 2109 L1549 2119 L1531 2103 L1531 2049 Z" stroke-width="6"/>
<path d="M1550 1990 L1593 1982 L1596 1992 L1553 2000 Z" fill="#000" stroke-width="3"/>
<path d="M1556 2003 L1596 1996 L1596 2006 L1572 2012 Z" fill="#000" stroke-width="3"/>
<path d="M1538 1992 L1550 1992 L1552 2012 L1545 2025 L1538 2022 Z" stroke-width="3"/>
<path d="M1551 2012 Q1565 2040 1568 2075 L1566 2110 M1562 2010 Q1578 2040 1580 2075 L1572 2105" fill="none" stroke-width="5"/>
<path d="M1585 2020 L1606 2014 L1606 2022 L1586 2027 Z" fill="#000" stroke-width="3"/>
<path d="M1580 2040 L1590 2038 L1590 2060 L1582 2062 Z" fill="#000" stroke-width="3"/>
<path d="M1584 2066 L1604 2062 L1604 2072 L1585 2076 Z" fill="#000" stroke-width="3"/>
<path d="M1584 2084 L1604 2080 L1604 2090 L1585 2094 Z" fill="#000" stroke-width="3"/>
<path d="M1538 2032 Q1550 2030 1560 2035 L1557 2048 L1536 2050 Z" fill="#000" stroke-width="3"/>
<path d="M1540 2056 L1562 2052 L1562 2060 L1540 2064 Z" fill="#000" stroke-width="3"/>
<path d="M1546 2070 Q1556 2066 1564 2072 L1566 2085 L1548 2082 Z" fill="#000" stroke-width="3"/>
<path d="M1536 2090 L1546 2088 L1546 2110 M1553 2090 L1556 2112" fill="none" stroke-width="5"/>
</g>
<g stroke="#000" stroke-width="3" fill="#fff" stroke-linejoin="round">






<path d="M1795 2210 Q1800 2204 1812 2206 M1803 2208 L1810 2254" fill="none" stroke-width="4"/>
</g>

<!-- p108.svg -->
<g stroke="#000" stroke-width="5" fill="#fff" stroke-linejoin="round" stroke-linecap="round">
<path d="M41 1969 L75 1969 L120 1983 L130 2005 L133 2024 L151 2022 L155 2139 L153 2161 L144 2180 L80 2189 L47 2180 L19 2127 L23 2116 L28 2024 L18 2020 L32 1988 Z"/>
<path d="M18 2020 Q40 2005 70 2010 Q100 2018 120 2042 L128 2060 L133 2024" fill="none" stroke-width="4"/>
<path d="M28 2024 L30 2120 M40 2023 L42 2118" fill="none" stroke-width="4"/>
<path d="M55 2025 Q45 2060 50 2100 L80 2180" fill="none" stroke-width="4"/>
<ellipse cx="98" cy="2095" rx="31" ry="54" stroke-width="5"/>
<path d="M73 2050 Q62 2080 68 2115 Q75 2145 100 2150" fill="none" stroke-width="7"/>
<path d="M19 2127 L60 2118 L65 2140 L27 2145 M133 2024 L133 2050 L150 2048 M130 2138 L155 2135 M130 2160 L153 2158" fill="none" stroke-width="4"/>
<path d="M85 2040 L105 2060 L120 2062 L130 2060" fill="none" stroke-width="4"/>
<path d="M80 2185 L90 2170 L140 2165 L142 2182" fill="none" stroke-width="4"/>
<ellipse cx="66" cy="1996" rx="7" ry="7" stroke-width="4"/>
<path d="M155 2090 Q162 2100 155 2110" fill="none" stroke-width="4"/>
<rect x="142" y="1984" width="26" height="16" rx="6" stroke-width="4"/>
<rect x="164" y="2119" width="28" height="17" rx="6" stroke-width="4"/>






</g>

<!-- p113.svg -->
<g stroke="#000" stroke-width="4.5" fill="#fff" stroke-linejoin="round" stroke-linecap="round">
<path d="M1030 1759 L1312 1741 Q1360 1748 1396 1776 L1396 1792 L1423 1806 L1445 1803 Q1450 1812 1445 1823 L1418 1831 L1467 1853 L1476 1929 L1451 1935 L1402 1969 L1402 1988 L1442 1987 Q1470 2000 1473 2028 L1497 2132 L1506 2285 L1514 2406 L1510 2417 Q1480 2432 1451 2436 Q1438 2435 1437 2428 L1434 2413 Q1400 2422 1385 2412 Q1372 2395 1380 2385 Q1395 2358 1412 2343 Q1418 2335 1418 2330 L1418 2242 L1413 2211 L1394 2201 L1387 2182 L1366 2059 Q1355 2035 1323 2022 L1202 2036 L1190 2054 L1121 2065 L1094 2062 L1043 2020 L1029 1782 Z"/>
<path d="M1029 1762 Q1075 1775 1104 1810 L1168 1806 L1187 1790 L1390 1778" fill="none" stroke-width="3.5"/>
<path d="M1065 1765 L1310 1746 L1366 1768 L1104 1792 Z" fill="none" stroke-width="2.5"/>
<path d="M1085 1764 L1180 1757 L1188 1785 L1106 1792 Z" fill="url(#vents)" stroke="none"/>
<path d="M1110 1816 Q1125 1900 1119 2063" fill="none" stroke-width="4"/>
<path d="M1168 1808 Q1178 1850 1185 1893 M1186 1810 Q1190 1850 1190 1876" fill="none" stroke-width="2.5"/>
<path d="M1190 1856 Q1200 1846 1220 1846 L1390 1836" fill="none" stroke-width="2.5"/>
<path d="M1193 1975 Q1200 2030 1187 2052 M1205 1975 Q1208 2030 1200 2050" fill="none" stroke-width="2.5"/>
<path d="M1238 1879 L1372 1875 Q1382 1878 1382 1890 L1385 1978 L1243 1990 Z" stroke-width="3"/>
<path d="M1387 1776 L1393 1988 L1442 1990 M1396 1792 L1402 1969" fill="none" stroke-width="2.5"/>
<path d="M1402 1860 L1447 1860 L1451 1935 M1410 1860 Q1395 1900 1412 1935" fill="none" stroke-width="3"/>
<ellipse cx="1430" cy="1895" rx="10" ry="16" stroke-width="2.5"/>
<path d="M1447 1875 L1458 1875 L1460 1900 L1449 1902 Z" stroke-width="3"/>
<path d="M1402 1925 L1412 1925 L1412 1940 L1402 1940 Z" stroke-width="3"/>
<path d="M1322 1995 Q1330 1988 1365 1985 Q1372 1990 1366 2002 Q1340 2010 1325 2008 Q1318 2002 1322 1995 Z" stroke-width="3"/>
<path d="M1328 1998 L1340 1992 L1340 1996 L1360 1994 L1360 2000 L1340 2002 L1340 2006 Z" fill="#000" stroke="none"/>
<path d="M1325 2025 L1341 2022 Q1362 2030 1372 2060 L1392 2180 Q1400 2200 1420 2206 L1440 2200" fill="none" stroke-width="3"/>
<path d="M1442 1990 Q1470 2020 1480 2080 L1497 2260 L1503 2390" fill="none" stroke-width="2"/>
<path d="M1395 2367 Q1450 2368 1502 2355" fill="none" stroke-width="5"/>
<path d="M1399 2375 Q1450 2371 1503 2359" fill="none" stroke-width="3"/>
<path d="M1434 2376 L1436 2400 Q1420 2405 1398 2405 Q1388 2395 1390 2385 Q1392 2378 1400 2376 Z" fill="none" stroke-width="4"/>
<path d="M1400 2410 L1445 2401 Q1450 2405 1446 2409 L1403 2416" fill="none" stroke-width="3"/>
<path d="M1426 2217 L1440 2214 L1444 2255 Q1438 2262 1430 2256 Z" stroke-width="3"/>
<path d="M1512 2374 L1522 2372 Q1528 2380 1524 2387 L1513 2388" stroke-width="4"/>
<path d="M1500 2210 L1518 2203" stroke-width="3"/>
<ellipse cx="1022" cy="1779" rx="8" ry="11" stroke-width="3.5"/>
<ellipse cx="1085" cy="1818" rx="9" ry="11" stroke-width="3.5"/>
<ellipse cx="1035" cy="2002" rx="9" ry="11" stroke-width="3.5"/>
<ellipse cx="1095" cy="2046" rx="8" ry="11" stroke-width="3.5"/>
<path d="M1040 2000 L1118 1993 M1043 1980 L1118 1985" fill="none" stroke-width="2.5"/>
<path d="M1030 1855 L1040 1855 L1048 1945 L1037 1945 Z" stroke-width="2.5"/>
</g>
<g stroke="#000" stroke-width="4.5" fill="#fff" stroke-linejoin="round">
<path d="M1164 2153 L1306 2142 Q1312 2144 1312 2152 L1315 2238 L1308 2244 L1172 2258 Z"/>
<path d="M1166 2188 L1302 2176 M1166 2225 L1306 2213" stroke-width="2.5"/>
<text x="1240" y="2213" transform="rotate(-5 1240 2213)" font-family="Liberation Sans, sans-serif" font-weight="bold" font-size="31" text-anchor="middle" stroke="#000" stroke-width="1.5" fill="#000" textLength="112" lengthAdjust="spacingAndGlyphs">DEWALT</text>
</g>

<!-- p116.svg -->
<g stroke="#000" stroke-width="5" fill="#fff" stroke-linejoin="round" stroke-linecap="round">
<path d="M1545 1841 L1556 1840 Q1582 1855 1583 1885 Q1582 1920 1560 1925 L1545 1925 Z"/>
<ellipse cx="1545" cy="1883" rx="28" ry="42"/>
<ellipse cx="1546" cy="1884" rx="20" ry="30" stroke-width="2.5"/>
<ellipse cx="1546" cy="1885" rx="13" ry="20" stroke-width="2.5"/>
<ellipse cx="1546" cy="1886" rx="7" ry="11" stroke-width="2.5"/>
<path d="M1652 1818 L1657 1818 Q1683 1835 1683 1862 Q1682 1900 1660 1904 L1652 1904 Z" stroke-width="3.5"/>
<ellipse cx="1652" cy="1861" rx="25" ry="43" stroke-width="3.5"/>
<ellipse cx="1654" cy="1861" rx="8" ry="16" stroke-width="3"/>
<path d="M1732 1802 L1745 1801 Q1778 1815 1777 1855 Q1776 1895 1752 1899 L1732 1899 Z" stroke-width="5"/>
<ellipse cx="1731" cy="1850" rx="31" ry="48" stroke-width="5"/>
<ellipse cx="1734" cy="1852" rx="22" ry="37" stroke-width="3"/>
<path d="M1730 1820 Q1748 1850 1738 1888 M1736 1818 Q1758 1852 1745 1886" fill="none" stroke-width="3.5"/>






<path d="M1866 1795 L1922 1789 L1924 1797 L1876 1802 L1880 1812 Z" stroke-width="3"/>
<path d="M1905 1800 Q1895 1845 1910 1880 L1925 1873 L1930 1860 L1952 1860 L1952 1820 L1925 1818 Q1918 1800 1905 1800 Z" stroke-width="3.5"/>
<ellipse cx="1912" cy="1838" rx="10" ry="30" stroke-width="3"/>
<path d="M1858 1872 L1910 1864 L1914 1879 L1862 1885 Z" stroke-width="3"/>
<path d="M1935 1818 L1938 1808 L1948 1810 L1950 1820" fill="none" stroke-width="3"/>
</g>

<!-- p121.svg -->
<g stroke="#000" stroke-width="4.5" fill="#fff" stroke-linejoin="round" stroke-linecap="round">
<path d="M2036 1595 L2120 1590 Q2170 1592 2192 1603 L2207 1616 L2207 1632 L2186 1662 Q2180 1680 2186 1694 Q2205 1715 2218 1737 L2234 1782 L2251 1873 L2267 2036 L2268 2185 L2255 2200 L2254 2280 L2232 2291 L2219 2290 L2215 2275 L2178 2272 L2165 2259 L2157 2169 L2144 1950 L2143 1906 L2130 1873 L2104 1851 L2023 1828 Q2002 1815 2000 1792 L2000 1737 Q2005 1710 2016 1688 L2032 1645 Z"/>
<path d="M2036 1597 L2130 1634 L2207 1616 M2130 1634 L2133 1650 L2207 1632" fill="none" stroke-width="3.5"/>
<path d="M2046 1604 Q2040 1640 2030 1690 Q2015 1740 2015 1790 Q2030 1820 2100 1838 L2138 1870" fill="none" stroke-width="3"/>
<path d="M2120 1640 Q2118 1700 2130 1760 L2140 1850 L2145 1876 M2133 1650 Q2130 1700 2142 1760 L2150 1850" fill="none" stroke-width="3"/>
<path d="M2042 1672 L2117 1670 M2022 1740 L2130 1730 M2072 1820 L2133 1785" fill="none" stroke-width="2.5"/>
<path d="M2060 1700 Q2080 1695 2098 1702 L2062 1708 Z M2056 1712 L2122 1712 L2130 1722 L2058 1728 Z M2058 1735 L2130 1735 L2132 1748 L2056 1752 Z M2056 1755 L2128 1755 L2134 1768 L2058 1772 Z M2044 1775 L2115 1772 L2112 1786 L2046 1790 Z M2050 1796 L2085 1790 L2080 1800 L2052 1802 Z" fill="#000" stroke-width="2"/>
<path d="M2168 1744 Q2190 1735 2220 1745 L2228 1775 Q2225 1820 2200 1840 Q2185 1850 2165 1852 Q2160 1800 2168 1744 Z" fill="url(#vents)" stroke-width="3"/>
<path d="M2145 1796 L2168 1795 M2147 1873 Q2200 1870 2228 1840 L2235 1800" fill="none" stroke-width="3"/>
<path d="M2138 1876 Q2150 1920 2155 2000 L2160 2167 M2150 1876 Q2162 1920 2168 2000 L2173 2166 M2165 1876 Q2200 1890 2210 1960 L2225 2150" fill="none" stroke-width="3"/>
<path d="M2176 1876 Q2215 1895 2222 1960 L2232 2155" fill="none" stroke-width="2.5"/>
<path d="M2200 1900 L2228 1885" fill="none" stroke-width="2.5"/>
<path d="M2160 2167 Q2190 2160 2225 2162" fill="none" stroke-width="6"/><path d="M2168 2180 Q2195 2173 2225 2176" fill="none" stroke-width="3"/><path d="M2225 2150 L2231 2289 M2232 2155 L2237 2289" fill="none" stroke-width="3"/>

<path d="M2172 2196 Q2195 2190 2222 2193 L2223 2232 Q2195 2234 2173 2242 Z" fill="none" stroke-width="4"/><path d="M2185 2200 L2200 2198 L2202 2236 L2188 2238 Z M2205 2215 L2220 2212 L2220 2226 L2206 2228 Z" fill="#000" stroke-width="2"/>
<path d="M2172 2250 L2222 2244 L2224 2254 L2174 2260 Z M2178 2264 L2220 2260 L2222 2270 L2180 2274 Z" fill="#000" stroke-width="2"/>
<path d="M2236 2212 Q2246 2202 2256 2198" fill="none" stroke-width="3"/>
<path d="M1975 2074 L2019 2066 L2032 2080 L2031 2150 L1994 2157 L1975 2150 Z" stroke-width="3"/>
<path d="M1975 2074 L1990 2085 L2032 2080 M1990 2085 L1994 2157" fill="none" stroke-width="3"/>
</g>

<!-- p126.svg -->
<g stroke="#000" stroke-width="4" fill="#fff" stroke-linejoin="round" stroke-linecap="round">
<path d="M1833 2668 Q1838 2740 1826 2812 Q1810 2900 1757 3063 M1876 2668 Q1880 2760 1864 2844 Q1845 2930 1791 3072" fill="none" stroke-width="4"/>
<path d="M1870 2700 Q1874 2780 1858 2850 Q1840 2930 1788 3068" fill="none" stroke-width="3"/>
<ellipse cx="1854" cy="2663" rx="21" ry="11" stroke-width="5"/>
<path d="M1824 2582 L1843 2662 M1832 2580 L1850 2662 M1843 2556 L1856 2660 M1850 2556 L1862 2660" fill="none" stroke-width="3.5"/>
<path d="M1822 2585 L1830 2575 M1845 2555 L1852 2552" stroke-width="6"/>
</g>
<g stroke="#000" stroke-width="4.5" fill="#fff" stroke-linejoin="round" stroke-linecap="round">
<path d="M2005 2578 L1998 2742 L2012 2745 L2012 2812 L2052 2812 L2054 2622 Q2056 2598 2060 2581 Z" stroke-width="4"/>
<path d="M1998 2742 Q1960 2760 1956 2800 Q1958 2840 1985 2858 Q2010 2862 2040 2860 Q2060 2855 2058 2830 Q2055 2810 2045 2818 Q2015 2825 2012 2845 L2012 2748 Z" stroke-width="4"/>
<path d="M1966 2790 Q1962 2830 1988 2852 M2012 2836 Q2030 2825 2052 2828" fill="none" stroke-width="2.5"/>
<g stroke-width="2.5" fill="none">
<circle cx="1991" cy="2800" r="6"/>
<path d="M1991 2787 L1991 2782 M2000 2791 L2005 2786 M2004 2800 L2010 2800 M2000 2809 L2005 2814 M1991 2813 L1991 2818 M1982 2809 L1977 2814 M1978 2800 L1972 2800 M1982 2791 L1977 2786" stroke-width="3"/>
</g>
<path d="M1988 2545 Q1995 2527 2031 2527 Q2074 2527 2074 2552 L2074 2560 Q2070 2580 2031 2581 Q2005 2580 2003 2572 L1988 2574 Z" stroke-width="4"/>
<path d="M2003 2556 Q2010 2578 2040 2578 Q2072 2575 2074 2552" fill="none" stroke-width="2.5"/>
<ellipse cx="2034" cy="2549" rx="17" ry="9" stroke-width="3.5"/>
<path d="M2122 2432 Q2130 2420 2170 2424 L2212 2421 Q2224 2425 2222 2440 L2220 2470 Q2210 2478 2192 2478 L2190 2484 L2150 2487 L2124 2475 Z" stroke-width="4"/>
<path d="M2124 2446 L2160 2455 L2190 2450 L2222 2440 M2160 2455 L2160 2487 M2190 2450 L2192 2478" fill="none" stroke-width="3"/>
<path d="M2140 2438 Q2160 2430 2190 2440 Q2210 2432 2212 2430" fill="none" stroke-width="3"/>
<path d="M2160 2442 Q2175 2436 2192 2440 Q2185 2447 2165 2446 Z" stroke-width="3"/>
</g>

<!-- p140.svg -->
<g stroke="#000" stroke-width="4.5" fill="#fff" stroke-linejoin="round" transform="translate(606 572) rotate(-12.1)">
<path d="M455 -15 L492 -15 A6.0 15 0 0 1 492 15 L455 15 A6.0 15 0 0 1 455 -15 Z"/>
<path d="M420 -22 L458 -22 A8.0 22 0 0 1 458 22 L420 22 A8.0 22 0 0 1 420 -22 Z"/>
<path d="M203 -30 L422 -30 A10.0 30 0 0 1 422 30 L203 30 A10.0 30 0 0 1 203 -30 Z"/>
<path d="M212 -22 L415 -22" stroke-width="2"/>
<path d="M212 -14 L415 -14" stroke-width="2"/>
<path d="M212 -6 L415 -6" stroke-width="2"/>
<path d="M212 2 L415 2" stroke-width="2"/>
<path d="M212 10 L415 10" stroke-width="2"/>
<path d="M212 18 L415 18" stroke-width="2"/>
<path d="M212 -26 L415 -26" stroke-width="5"/>
<path d="M141 -29 L205 -29 A10.0 29 0 0 1 205 29 L141 29 A10.0 29 0 0 1 141 -29 Z"/>
<path d="M160 -28 A10 28 0 0 1 160 28 M180 -28 A10 28 0 0 1 180 28" fill="none" stroke-width="3"/>
<path d="M67 -40 L141 -40 A14.0 40 0 0 1 141 40 L67 40 A14.0 40 0 0 1 67 -40 Z"/>
<path d="M85 -38 L85 38 M120 -38 L120 38" fill="none" stroke-width="3"/>
<path d="M55 -20 L75 -20 A7.0 20 0 0 1 75 20 L55 20 A7.0 20 0 0 1 55 -20 Z"/>
<path d="M0 -31 L60 -31 A12.0 31 0 0 1 60 31 L0 31 A12.0 31 0 0 1 0 -31 Z"/>
<path d="M18 -30 A12 30 0 0 1 18 30 M30 -30 A12 30 0 0 1 30 30 M42 -30 A12 30 0 0 1 42 30" fill="none" stroke-width="3"/>
<ellipse cx="0" cy="0" rx="12" ry="31"/>
<ellipse cx="0" cy="0" rx="6" ry="14" stroke-width="3"/>
<circle cx="0" cy="0" r="3" fill="#000" stroke="none"/>
</g>
<!-- p141.svg -->
<g stroke="#000" fill="none" stroke-linejoin="round">
<ellipse cx="1130" cy="456" rx="15" ry="23" stroke-width="7"/>
<g stroke-width="4" fill="#fff">
<ellipse cx="1236" cy="433" rx="18" ry="29"/>
<ellipse cx="1214" cy="438" rx="13" ry="27"/>
<path d="M1222 412 Q1240 440 1232 464" fill="none" stroke-width="3"/>
</g>
<g stroke-width="5" fill="#fff">
<path d="M1318 370 Q1350 365 1360 410 Q1364 450 1340 456 L1322 456 Z"/>
<ellipse cx="1319" cy="413" rx="28" ry="43"/>
<ellipse cx="1320" cy="413" rx="19" ry="30" stroke-width="3"/>
<ellipse cx="1320" cy="414" rx="11" ry="18" stroke-width="3"/>
<ellipse cx="1321" cy="415" rx="6" ry="12" stroke-width="4"/>
</g>
<g stroke-width="5" fill="#fff">
<ellipse cx="1429" cy="389" rx="26" ry="38"/>
<ellipse cx="1427" cy="391" rx="16" ry="27" stroke-width="3"/>
<ellipse cx="1427" cy="391" rx="10" ry="18" stroke-width="4"/>
<circle cx="1420" cy="361" r="4" stroke-width="3"/>
</g>
<g stroke-width="6" fill="#fff">
<ellipse cx="1518" cy="364" rx="34" ry="51"/>
<ellipse cx="1517" cy="362" rx="19" ry="33" stroke-width="5"/>
<ellipse cx="1512" cy="362" rx="16" ry="30" stroke-width="3"/>
<circle cx="1506" cy="329" r="5" stroke-width="3"/>
</g>
</g>

<!-- p146.svg -->
<g stroke="#000" stroke-width="4" fill="#fff" stroke-linejoin="round">
<path d="M1691.7 338.0 L1695.9 342.3 L1695.6 346.5 L1691.0 349.2 L1690.4 352.9 L1693.7 359.0 L1692.7 362.9 L1687.8 363.3 L1686.7 366.5 L1688.8 374.0 L1687.2 377.3 L1682.4 375.3 L1680.7 377.9 L1681.6 386.0 L1679.5 388.5 L1675.2 384.3 L1673.2 386.0 L1672.6 394.2 L1670.1 395.6 L1666.7 389.6 L1664.5 390.3 L1662.6 397.8 L1660.0 398.0 L1657.7 390.7 L1655.5 390.3 L1652.3 396.6 L1649.9 395.6 L1648.9 387.5 L1646.8 386.0 L1642.7 390.7 L1640.5 388.5 L1641.0 380.3 L1639.3 377.9 L1634.5 380.4 L1632.8 377.3 L1634.6 369.6 L1633.3 366.5 L1628.4 366.8 L1627.3 362.9 L1630.3 356.5 L1629.6 352.9 L1624.8 350.8 L1624.4 346.5 L1628.4 341.8 L1628.3 338.0 L1624.1 333.7 L1624.4 329.5 L1629.0 326.8 L1629.6 323.1 L1626.3 317.0 L1627.3 313.1 L1632.2 312.7 L1633.3 309.5 L1631.2 302.0 L1632.8 298.7 L1637.6 300.7 L1639.3 298.1 L1638.4 290.0 L1640.5 287.5 L1644.8 291.7 L1646.8 290.0 L1647.4 281.8 L1649.9 280.4 L1653.3 286.4 L1655.5 285.7 L1657.4 278.2 L1660.0 278.0 L1662.3 285.3 L1664.5 285.7 L1667.7 279.4 L1670.1 280.4 L1671.1 288.5 L1673.2 290.0 L1677.3 285.3 L1679.5 287.5 L1679.0 295.7 L1680.7 298.1 L1685.5 295.6 L1687.2 298.7 L1685.4 306.4 L1686.7 309.5 L1691.6 309.2 L1692.7 313.1 L1689.7 319.5 L1690.4 323.1 L1695.2 325.2 L1695.6 329.5 L1691.6 334.2 Z" stroke-width="4" fill="#000"/>
<path d="M1606 288 L1660 278 L1660 398 L1606 402 Z" fill="#000" stroke="none"/>
<path d="M1612 294 L1688 282" stroke="#fff" stroke-width="3"/>
<path d="M1612 304 L1688 292" stroke="#fff" stroke-width="3"/>
<path d="M1612 314 L1688 303" stroke="#fff" stroke-width="3"/>
<path d="M1612 325 L1688 313" stroke="#fff" stroke-width="3"/>
<path d="M1612 335 L1688 324" stroke="#fff" stroke-width="3"/>
<path d="M1612 345 L1688 334" stroke="#fff" stroke-width="3"/>
<path d="M1612 355 L1688 344" stroke="#fff" stroke-width="3"/>
<path d="M1612 365 L1688 355" stroke="#fff" stroke-width="3"/>
<path d="M1612 376 L1688 365" stroke="#fff" stroke-width="3"/>
<path d="M1612 386 L1688 376" stroke="#fff" stroke-width="3"/>
<path d="M1612 396 L1688 386" stroke="#fff" stroke-width="3"/>
<path d="M1636 282 Q1650 340 1636 400" fill="none" stroke="#fff" stroke-width="4"/>
<path d="M1635.0 345.0 L1638.9 349.1 L1638.7 353.1 L1634.4 355.7 L1633.9 359.1 L1636.9 364.9 L1636.0 368.7 L1631.5 369.0 L1630.4 372.1 L1632.4 379.2 L1630.9 382.3 L1626.5 380.5 L1625.0 382.9 L1625.8 390.6 L1623.8 393.0 L1619.9 389.0 L1618.1 390.6 L1617.5 398.4 L1615.3 399.7 L1612.2 394.0 L1610.1 394.6 L1608.4 401.9 L1606.0 402.0 L1603.9 395.0 L1601.9 394.6 L1599.0 400.7 L1596.7 399.7 L1595.9 392.0 L1593.9 390.6 L1590.2 395.0 L1588.2 393.0 L1588.6 385.2 L1587.0 382.9 L1582.7 385.3 L1581.1 382.3 L1582.8 375.1 L1581.6 372.1 L1577.0 372.3 L1576.0 368.7 L1578.8 362.5 L1578.1 359.1 L1573.8 357.1 L1573.3 353.1 L1577.0 348.6 L1577.0 345.0 L1573.1 340.9 L1573.3 336.9 L1577.6 334.3 L1578.1 330.9 L1575.1 325.1 L1576.0 321.3 L1580.5 321.0 L1581.6 317.9 L1579.6 310.8 L1581.1 307.7 L1585.5 309.5 L1587.0 307.1 L1586.2 299.4 L1588.2 297.0 L1592.1 301.0 L1593.9 299.4 L1594.5 291.6 L1596.7 290.3 L1599.8 296.0 L1601.9 295.4 L1603.6 288.1 L1606.0 288.0 L1608.1 295.0 L1610.1 295.4 L1613.0 289.3 L1615.3 290.3 L1616.1 298.0 L1618.1 299.4 L1621.8 295.0 L1623.8 297.0 L1623.4 304.8 L1625.0 307.1 L1629.3 304.7 L1630.9 307.7 L1629.2 314.9 L1630.4 317.9 L1635.0 317.7 L1636.0 321.3 L1633.2 327.5 L1633.9 330.9 L1638.2 332.9 L1638.7 336.9 L1635.0 341.4 Z" stroke-width="4.5"/>
<ellipse cx="1608" cy="346" rx="20" ry="30" stroke-width="3"/>
<ellipse cx="1611" cy="348" rx="14" ry="24" stroke-width="2.5"/>
<path d="M1606 332 L1622 330 M1606 342 L1624 341 M1606 352 L1624 352 M1607 362 L1622 363" stroke-width="4"/>
</g>
<g stroke="#000" stroke-width="5" fill="#fff" stroke-linejoin="round">
<path d="M1745 264 L1760 264 Q1790 280 1790 320 Q1788 345 1768 350 L1745 352 Z"/>
<ellipse cx="1745" cy="308" rx="27" ry="43"/>
<ellipse cx="1748" cy="310" rx="19" ry="31" stroke-width="3"/>
<ellipse cx="1746" cy="312" rx="11" ry="18" stroke-width="4"/>
<path d="M1746 302 L1748 322" stroke-width="4"/>
<circle cx="1804" cy="298" r="8" fill="#000" stroke="none"/>
<path d="M1838 282 L1876 274 Q1882 276 1882 284 Q1882 290 1878 291 L1840 298 Q1835 296 1835 290 Q1835 284 1838 282 Z" stroke-width="3.5"/>
<path d="M1846 280 L1849 296" stroke-width="3"/>
</g>
<g stroke="#000" fill="#000">
<rect x="2185" y="47" width="152" height="132" fill="#fff" stroke-width="4"/>
<rect x="2190" y="55" width="140" height="15" stroke="none"/>
<rect x="2190" y="73" width="140" height="13" stroke="none"/>
<rect x="2190" y="89" width="140" height="15" stroke="none"/>
<rect x="2192" y="127" width="68" height="48" stroke="none"/>
</g>

<!-- p150.svg -->
<g stroke="#000" stroke-width="5" fill="#fff" stroke-linejoin="round" stroke-linecap="round">
<path d="M100 1074 L164 1062 L179 1039 L325 1009 L331 997 L379 995 L382 1016 L455 1010 L483 1024 L489 1101 L486 1235 L474 1247 L395 1244 L319 1262 L288 1247 L243 1227 L212 1208 L200 1192 L118 1196 Q80 1180 76 1122 Q80 1085 100 1074 Z"/>
<path d="M243 1059 L425 1026 L428 1053 L243 1091 Z" stroke-width="3"/>
<path d="M343 1077 L455 1068 L461 1220 L346 1232 Z" stroke-width="3"/>
<path d="M425 1026 L432 1028 L455 1036 L460 1068 M455 1036 L483 1030" fill="none" stroke-width="3"/>
<ellipse cx="446" cy="1045" rx="5" ry="7" stroke-width="3"/>
<ellipse cx="442" cy="1232" rx="5" ry="8" stroke-width="3"/>
<path d="M164 1062 Q215 1100 220 1170 Q215 1195 200 1192" fill="none" stroke-width="3"/>
<path d="M182 1064 Q225 1100 228 1170" fill="none" stroke-width="2.5"/>
<path d="M200 1090 Q230 1075 243 1091 L243 1110" fill="none" stroke-width="2.5"/>
<path d="M252 1140 Q240 1180 212 1208 M262 1142 L318 1262 M255 1160 L305 1255" fill="none" stroke-width="2.5"/>
<path d="M380 1225 L430 1215" stroke-width="3"/>
<ellipse cx="116" cy="1135" rx="40" ry="60" transform="rotate(-12 116 1135)" stroke-width="5"/>
<ellipse cx="117" cy="1136" rx="32" ry="50" transform="rotate(-12 117 1136)" stroke-width="3"/>
<ellipse cx="117" cy="1139" rx="17" ry="27" transform="rotate(-12 117 1139)" stroke-width="3"/>
<ellipse cx="116" cy="1139" rx="13" ry="22" transform="rotate(-12 116 1139)" stroke-width="2"/>
</g>
<g stroke="#000" stroke-width="4" fill="#fff" stroke-linejoin="round">
<path d="M40 1010 L126 991 Q132 994 130 1004 Q129 1010 124 1011 L44 1032 Z"/>
<path d="M65 1013 L123 1000" stroke-width="6" stroke-dasharray="2 4"/>
<ellipse cx="34" cy="1022" rx="13" ry="16"/>
<path d="M30 1014 Q38 1022 30 1030" fill="none" stroke-width="3"/>
</g>

<!-- p151.svg -->
<g stroke="#000" stroke-width="5" fill="#fff" stroke-linejoin="round" stroke-linecap="round">
<path d="M722 902 L734 899 Q752 905 752 930 Q751 958 735 961 L722 961 Z" stroke-width="6"/>
<ellipse cx="721" cy="931" rx="17" ry="29" stroke-width="6"/>
<ellipse cx="723" cy="932" rx="9" ry="15" stroke-width="4"/>
<path d="M585 1127 L594 1126 Q607 1132 607 1150 Q606 1172 594 1174 L585 1174 Z" stroke-width="5"/>
<ellipse cx="584" cy="1150" rx="14" ry="23" stroke-width="5"/>
<ellipse cx="584" cy="1151" rx="7" ry="13" stroke-width="3"/>
<path d="M944 1046 L952 1045 Q964 1050 964 1068 Q963 1090 952 1092 L944 1092 Z" stroke-width="5"/>
<ellipse cx="943" cy="1069" rx="13" ry="23" stroke-width="5"/>
<ellipse cx="943" cy="1070" rx="7" ry="13" stroke-width="3"/>
</g>
<g stroke="#000" stroke-width="4.5" fill="#fff" stroke-linejoin="round">
<path d="M900 1068 L912 1066 Q918 1074 916 1086 L902 1090 Z"/>
<path d="M826 1050 L880 1040 Q905 1060 902 1095 Q900 1130 880 1136 L836 1140 Q850 1090 826 1050 Z" fill="url(#vents)"/>
<path d="M826 1050 Q850 1090 836 1140" fill="none" stroke-width="5"/>
<path d="M832 1052 Q860 1095 842 1138" fill="none" stroke-width="3"/>
<path d="M788 1070 L826 1058 Q845 1095 838 1130 L800 1132 Z" fill="url(#vents)" stroke-width="4"/>
<ellipse cx="795" cy="1101" rx="14" ry="31"/>
<ellipse cx="800" cy="1101" rx="6" ry="12" stroke-width="3"/>
<path d="M700 1112 L798 1090 L798 1114 L700 1137 Z"/>
<path d="M640 1100 L692 1093 Q705 1120 700 1160 L650 1162 Z" fill="url(#vents)"/>
<ellipse cx="643" cy="1131" rx="11" ry="31"/>
<path d="M617 1132 L640 1128 L642 1150 L618 1152 Z"/>
<ellipse cx="617" cy="1142" rx="5" ry="10"/>
</g>
<g stroke="#000" stroke-width="5" fill="#fff" stroke-linejoin="round">
<path d="M659 1247 L659 1280 Q665 1298 709 1298 Q755 1298 758 1280 L758 1247 Z"/>
<ellipse cx="709" cy="1247" rx="50" ry="24"/>
<path d="M662 1258 Q700 1275 756 1258" fill="none" stroke-width="3"/>
<path d="M697 1230 Q725 1235 728 1250 Q720 1265 705 1262" fill="none" stroke-width="5"/>
<ellipse cx="704" cy="1244" rx="9" ry="6" fill="#000"/>
<path d="M671 1194 L684 1194 L685 1250 L672 1252 Z"/>
<ellipse cx="678" cy="1249" rx="13" ry="5"/>
</g>

<!-- p152.svg -->
<g stroke="#000" stroke-width="4" fill="#fff" stroke-linejoin="round">
<ellipse cx="381" cy="1265" rx="17" ry="6" stroke-width="5"/>
<path d="M397 1300 L397 1282 Q398 1272 405 1272 Q412 1273 413 1282 L412 1298 Q410 1304 404 1304 Q397 1304 397 1300 Z" stroke-width="3"/>
<path d="M398 1289 L412 1292" stroke-width="3"/>
<path d="M281 1331 L282 1313 Q283 1303 290 1303 Q297 1304 298 1313 L297 1329 Q295 1335 289 1335 Q281 1335 281 1331 Z" stroke-width="3"/>
<path d="M283 1318 L297 1322 M283 1326 L297 1326" stroke-width="3"/>
<path d="M338 1352 L338 1366 L346 1382 Q360 1390 380 1389 Q408 1384 424 1364 L425 1352 Z" fill="#000"/>
<ellipse cx="381" cy="1352" rx="44" ry="20" stroke-width="5"/>
<ellipse cx="352" cy="1352" rx="5" ry="3" stroke-width="3"/>
<ellipse cx="408" cy="1349" rx="5" ry="3" stroke-width="3"/>
<path d="M361 1320 L361 1352 Q365 1362 382 1362 Q400 1362 403 1352 L401 1320 Z" stroke-width="5"/>
<ellipse cx="381" cy="1320" rx="19" ry="9" stroke-width="4"/>
<path d="M363 1332 Q381 1340 400 1332 M363 1342 Q381 1350 401 1342" fill="none" stroke-width="3"/>
<path d="M375 1412 Q385 1410 390 1414 L391 1445 L375 1445 Z" stroke-width="3"/>
<path d="M376 1425 L390 1428 M377 1434 L389 1434" stroke-width="3"/>
<path d="M368 1446 L373 1442 L392 1442 L396 1447 L395 1459 L391 1463 L371 1463 L367 1458 Z" stroke-width="3"/>
<path d="M373 1452 Q385 1448 392 1454" fill="none" stroke-width="3"/>
</g>

<!-- p160.svg -->
<g stroke="#000" stroke-width="4" fill="#fff" stroke-linejoin="round" stroke-linecap="round">
<path d="M1218 706 Q1220 703 1226 705 L1245 710 L1277 708 Q1282 710 1282 718 L1282 746 L1275 750 L1245 746 L1218 738 Z"/>
<path d="M1218 712 L1245 718 L1281 716" fill="none" stroke-width="3"/>
<path d="M1249 750 L1276 750 L1273 762 L1278 770 Q1276 780 1262 780 Q1248 780 1250 770 L1253 762 Z"/>
<path d="M1257 787 L1269 786 L1268 873 L1258 873 Z" stroke-width="3.5"/>
<path d="M1260 800 L1260 830" stroke-width="2"/>
<ellipse cx="1262" cy="883" rx="12" ry="5" stroke-width="5"/>
<path d="M1225 800 Q1230 796 1236 799 L1237 818 Q1231 822 1225 819 Z" stroke-width="3"/>
<path d="M1364 899 L1425 882 Q1428 886 1426 889 L1366 907 Q1362 904 1364 899 Z" stroke-width="3"/>
<path d="M1376 1000 L1398 996 Q1403 1000 1401 1008 L1384 1015 Q1376 1015 1376 1008 Z" stroke-width="3"/>
<path d="M1390 999 L1386 1014" stroke-width="2.5"/>
<path d="M1037 986 Q1040 970 1063 962 M1037 986 L1037 1083 L1062 1127 L1106 1172 L1148 1172 L1163 1161 L1157 1025 L1138 1002 Q1085 995 1037 986" fill="none" stroke-width="3.5"/>
<path d="M1044 990 L1043 1080 L1067 1122 L1108 1165 L1146 1166 L1156 1158 L1150 1028 L1136 1008" fill="none" stroke-width="2"/>
<path d="M1065 962 Q1040 972 1037 986" fill="none" stroke-width="5"/>
<path d="M1191 903 L1236 890 L1327 907 L1354 923 L1360 975 L1347 979 L1349 997 L1347 1118 L1361 1115 L1357 1150 L1316 1168 L1269 1167 L1191 1129 L1182 998 L1168 1002 L1187 967 Z" stroke-width="4"/>
<path d="M1197 907 L1241 917 L1288 917 L1327 907" fill="none" stroke-width="3.5"/>
<path d="M1198 918 L1261 930 L1309 925" fill="none" stroke-width="3.5"/>
<path d="M1236 890 L1236 909 M1220 898 L1222 907" fill="none" stroke-width="3"/>
<path d="M1197 907 L1203 940 L1228 949 M1309 925 L1301 951 L1326 970 L1328 1002 L1328 1110 L1327 1152" fill="none" stroke-width="3"/>
<path d="M1327 907 L1328 928 L1335 1016 L1337 1111 L1316 1168" fill="none" stroke-width="3"/>
<path d="M1184 1000 L1190 1127 M1191 942 L1197 959 L1187 967 M1191 1027 L1198 1029 L1208 1047 L1217 1057 L1228 1057 L1236 1076 L1255 1097 L1282 1095 L1296 1070" fill="none" stroke-width="3"/>
<ellipse cx="1253" cy="988" rx="22" ry="40" transform="rotate(-10 1253 988)" stroke-width="3.5"/>
<ellipse cx="1247" cy="990" rx="12" ry="34" transform="rotate(-10 1247 990)" fill="none" stroke-width="3"/>
<path d="M1216 975 L1225 978 L1227 987 L1217 989 M1241 972 L1254 975 L1255 990 L1247 993 M1212 994 L1222 1002 L1233 997 M1247 1000 L1254 995 L1255 1010" fill="none" stroke-width="3"/>
<path d="M1265 952 L1301 951 M1284 953 L1293 983 L1290 1002 L1296 1028 L1327 1024 M1293 987 L1326 990 M1286 1005 L1301 1029" fill="none" stroke-width="3"/>
<path d="M1214 1040 Q1225 1020 1260 1025 Q1300 1030 1296 1060 Q1292 1095 1258 1098 Q1225 1095 1214 1070 Z" stroke-width="3.5"/>
<ellipse cx="1261" cy="1052" rx="11" ry="16" stroke-width="4"/>
<path d="M1259 1038 L1265 1066" stroke-width="3"/>
<ellipse cx="1222" cy="1028" rx="10" ry="13" fill="none" stroke-width="3"/>
<path d="M1193 1084 L1203 1092 L1216 1108 L1190 1118 M1191 1119 L1241 1120 L1296 1114 L1327 1078 M1201 1123 L1248 1138 L1303 1127 L1328 1110" fill="none" stroke-width="3"/>
<path d="M1258 1099 L1261 1123 M1281 1096 L1281 1123" fill="none" stroke-width="5"/>
<path d="M1296 1065 L1327 1070 M1301 1073 L1327 1078" fill="none" stroke-width="3"/>
<path d="M1263 1145 L1304 1144 L1304 1157 L1265 1160 Z" stroke-width="3"/>
<path d="M1217 1146 L1254 1146 L1254 1157 Z" fill="#000" stroke-width="2"/>
<path d="M1261 1123 L1281 1123 L1266 1129 Z" fill="#000" stroke-width="2"/>
<ellipse cx="1322" cy="1143" rx="5" ry="7" fill="none" stroke-width="3"/>
<ellipse cx="1318" cy="940" rx="5" ry="6" fill="none" stroke-width="3"/>
</g>

<!-- p168.svg -->
<g stroke="#000" stroke-width="4.5" fill="#fff" stroke-linejoin="round" stroke-linecap="round">
<path d="M315 344 L405 320 Q470 328 462 398 Q456 452 427 462 L340 478 L321 473 L297 464 L278 452 L262 449 Q240 440 242 428 Q246 417 264 407 L273 376 Q285 366 297 368 L306 352 Z" stroke-width="5.5"/>
<path d="M318 352 Q350 340 366 346 Q392 400 372 468 L340 476 Q360 420 318 352 Z" fill="url(#teeth)" stroke-width="4"/>
<path d="M364 352 L405 342 Q430 400 410 458 L380 466 Q402 405 364 352 Z" fill="url(#knurl)" stroke-width="3"/>
<path d="M410 338 L428 334 Q462 350 456 400 Q452 440 430 455 L414 458 Q436 400 410 338 Z" fill="url(#knurl)" stroke-width="3"/>
<path d="M264 407 L283 404 Q298 420 292 448 L262 449 Q244 440 242 428 Q246 417 264 407 Z"/>
<path d="M283 404 Q300 402 305 440 Q302 460 297 464" fill="none" stroke-width="3"/>
<path d="M303 380 Q325 420 318 468" fill="none" stroke-width="3"/>
<ellipse cx="336" cy="453" rx="9" ry="12"/>
<ellipse cx="250" cy="433" rx="5" ry="10" stroke-width="3"/>
</g>
<g stroke="#000" stroke-width="4" fill="#fff" stroke-linejoin="round">
<path d="M139 453 L198 444 Q202 446 200 458 Q199 464 196 465 L143 476 Z"/><path d="M150 462 L195 454" stroke-width="5" stroke-dasharray="2 3"/>
<ellipse cx="130" cy="471" rx="10" ry="21" transform="rotate(-15 130 471)"/>
<path d="M124 465 L134 480" stroke-width="3"/>
</g>

<!-- p169.svg -->
<g stroke="#000" stroke-width="5" fill="#fff" stroke-linejoin="round" stroke-linecap="round">
<path d="M284 73 L264 62 Q254 57 248 67 Q242 79 251 85 L284 102 Z"/>
<path d="M284 76 L288 190 L338 188 L335 76 Z"/>
<path d="M284 76 Q287 64 310 64 Q333 64 335 76 Q333 86 310 86 Q287 86 284 76 Z"/>
<path d="M292 80 Q300 84 315 84" stroke-width="3"/>
<path d="M278 178 L343 176 L344 202 L278 203 Z"/>
<path d="M284 186 Q310 198 338 186" stroke-width="4"/>
<path d="M279 203 L289 224 L334 224 L344 202 Z"/>
<path d="M296 206 L300 222 M304 207 L306 222 M312 207 L313 222 M320 207 L319 222 M328 206 L325 221" stroke-width="3"/>
<path d="M297 224 L298 240 Q300 246 311 246 Q323 246 324 240 L325 224 Z"/>
<path d="M329 101 L421 142 Q432 150 428 160 Q423 170 412 168 L320 120 Q312 114 315 107 Q319 99 329 101 Z"/>
<path d="M408 150 Q410 160 412 166" stroke-width="3"/>
</g>

<!-- p171.svg -->
<g stroke="#000" stroke-width="5" fill="#fff" stroke-linejoin="round" stroke-linecap="round">
<path d="M160 2381 L194 2381 L191 2597 L163 2597 Z" stroke-width="5"/>
<path d="M166 2553 L189 2553 M166 2562 L189 2562 M166 2571 L189 2571 M166 2580 L189 2580 M166 2589 L189 2589" stroke-width="3"/>
<path d="M158 2362 Q160 2352 180 2352 Q200 2352 202 2362 L202 2376 Q200 2384 180 2384 Q160 2384 158 2376 Z" stroke-width="5"/>
<path d="M164 2370 L196 2370 M172 2360 L170 2382 M188 2360 L190 2382" stroke-width="2.5"/>
<path d="M136 2816 L134 2738 Q100 2725 70 2710 Q45 2690 45 2655 Q46 2615 80 2604 Q110 2598 140 2602 L200 2615 Q212 2625 210 2650 Q208 2668 196 2672 L195 2816 Z" stroke-width="5"/>
<path d="M124 2812 L124 2828 Q126 2843 162 2843 Q198 2843 200 2828 L200 2812 Z" stroke-width="5"/>
<ellipse cx="162" cy="2812" rx="38" ry="12" stroke-width="5"/>
<path d="M136 2812 Q160 2820 190 2812" fill="none" stroke-width="3"/>
<ellipse cx="98" cy="2672" rx="38" ry="57" transform="rotate(-15 98 2672)" stroke-width="4"/>
<ellipse cx="104" cy="2676" rx="30" ry="50" transform="rotate(-15 104 2676)" stroke-width="6"/>
<path d="M134 2604 Q138 2640 150 2665 L196 2672 M134 2604 L200 2615" fill="none" stroke-width="4"/>
<path d="M148 2628 L162 2618 L185 2620 L195 2630 L180 2640 L156 2638 Z" stroke-width="3"/>
<circle cx="170" cy="2629" r="4" fill="#000" stroke="none"/>
<ellipse cx="160" cy="2655" rx="6" ry="8" stroke-width="4"/>
<path d="M140 2700 Q165 2712 195 2700" fill="none" stroke-width="3"/>
<path d="M108 2916 L208 2916 L187 3090 Q183 3104 150 3104 Q118 3102 113 3088 Z" fill="url(#mesh)" stroke-width="6"/>
<path d="M106 2900 Q108 2916 160 2917 Q214 2916 216 2900 Q214 2885 205 2884 L205 2875 Q200 2856 160 2855 Q118 2856 115 2875 L115 2884 Q106 2886 106 2900 Z" stroke-width="5"/>
<ellipse cx="160" cy="2873" rx="35" ry="13" stroke-width="4"/>
<ellipse cx="160" cy="2875" rx="27" ry="9" stroke-width="3"/>
<path d="M115 2884 Q160 2898 205 2884" fill="none" stroke-width="3"/>
</g>
<g stroke="#000" stroke-width="4.5" fill="#fff" stroke-linejoin="round">
<path d="M304 2578 L545 2488 Q556 2490 552 2502 L310 2591 Q300 2592 300 2585 Q300 2580 304 2578 Z"/>
<ellipse cx="304" cy="2584" rx="4" ry="7" stroke-width="3"/>
</g>

<!-- p173.svg -->
<g stroke="#000" stroke-width="4" fill="#fff" stroke-linejoin="round" stroke-linecap="round">
<path d="M1264 2805 C1300 2830 1310 2860 1298 2900 C1285 2940 1262 2990 1261 3036 C1262 3070 1272 3090 1278 3104" fill="none" stroke-width="14"/>
<path d="M1264 2805 C1300 2830 1310 2860 1298 2900 C1285 2940 1262 2990 1261 3036 C1262 3070 1272 3090 1276 3096" fill="none" stroke="#fff" stroke-width="4"/>
<path d="M1276 3098 L1281 3106" stroke-width="7"/>
<path d="M1312 2748 C1312 2770 1290 2795 1262 2800" fill="none" stroke-width="8"/>
<path d="M1312 2748 C1312 2770 1290 2795 1262 2800" fill="none" stroke="#fff" stroke-width="2.5"/>
<path d="M1214 2790 Q1230 2786 1240 2792 L1262 2800 L1258 2808 Q1235 2812 1215 2802 Z" fill="#000" stroke-width="4"/>
<path d="M1228 2797 L1245 2799" stroke="#fff" stroke-width="2"/>
<path d="M1282 2693 L1300 2690 L1320 2705 L1317 2750 L1299 2753 L1279 2737 Z" stroke-width="4"/>
<path d="M1282 2693 L1302 2708 L1320 2705 M1302 2708 L1299 2753" fill="none" stroke-width="3"/>
<path d="M1404 2792 C1440 2817 1450 2847 1438 2887 C1425 2927 1402 2977 1401 3023 C1402 3057 1412 3077 1418 3091" fill="none" stroke-width="14"/>
<path d="M1404 2792 C1440 2817 1450 2847 1438 2887 C1425 2927 1402 2977 1401 3023 C1402 3057 1412 3077 1416 3083" fill="none" stroke="#fff" stroke-width="4"/>
<path d="M1416 3085 L1421 3093" stroke-width="7"/>
<path d="M1452 2735 C1452 2757 1430 2782 1402 2787" fill="none" stroke-width="8"/>
<path d="M1452 2735 C1452 2757 1430 2782 1402 2787" fill="none" stroke="#fff" stroke-width="2.5"/>
<path d="M1354 2777 Q1370 2773 1380 2779 L1402 2787 L1398 2795 Q1375 2799 1355 2789 Z" fill="#000" stroke-width="4"/>
<path d="M1368 2784 L1385 2786" stroke="#fff" stroke-width="2"/>
<path d="M1422 2680 L1440 2677 L1460 2692 L1457 2737 L1439 2740 L1419 2724 Z" stroke-width="4"/>
<path d="M1422 2680 L1442 2695 L1460 2692 M1442 2695 L1439 2740" fill="none" stroke-width="3"/>
</g>
<g fill="none" stroke="#000"><circle cx="2361" cy="3113" r="23" stroke-width="5"/></g>
<text x="2362" y="3128" font-family="Liberation Serif, serif" font-weight="bold" font-size="40" text-anchor="middle" fill="#000">C</text>
<!-- p800.svg -->
<g stroke="#000" stroke-width="3.5" fill="#fff" stroke-linejoin="round" stroke-linecap="round">
<path d="M616 3062 L707 2983 Q716 2984 719 2993 L626 3078 Q616 3078 614 3068 Z" stroke-width="4"/>
<path d="M660 3030 L668 3042 M675 3012 L683 3025 M700 2990 L708 3000" stroke-width="3"/>
<path d="M712 2985 L745 2955 Q755 2950 760 2955 L756 2960 L748 2960 L717 2992" fill="none" stroke-width="4"/>
<path d="M598 3085 L612 3070 L622 3078 L606 3094 Z" stroke-width="4"/>
<path d="M601 3090 L610 3081 M604 3093 L613 3084" stroke-width="2"/>
<path d="M652 3045 L680 3050 Q690 3056 690 3068 L686 3068 L684 3060 L660 3058" fill="none" stroke-width="3.5"/>
<path d="M645 3058 L665 3090 Q670 3098 678 3092 L660 3068 L668 3060" fill="none" stroke-width="3.5"/>
</g>
<g stroke="#000" stroke-width="3.5" fill="#fff" stroke-linejoin="round" stroke-linecap="round">
<path d="M887 3030 L887 3060 L940 3074 L989 3047 L989 3020 L946 3008 Z"/>
<path d="M887 3040 L940 3054 L989 3030 M940 3054 L940 3074 M946 3008 L946 3030" fill="none" stroke-width="3"/>
<path d="M900 3030 L946 3012 L982 3018 L940 3038 Z" fill="none" stroke-width="2.5"/>
<path d="M945 3037 L995 3014 L1021 3007 L1042 3014 L1042 3019 L996 3047 L945 3044 Z"/>
<path d="M955 3038 L1000 3018 L1030 3014 M990 3035 L1035 3017" fill="none" stroke-width="2.5"/>
<path d="M867 3007 L918 2996 L945 3000 L945 3006 L891 3025 L867 3019 Z"/>
<path d="M880 3010 L920 3000 L938 3004 L892 3019 Z" fill="none" stroke-width="2.5"/>
<path d="M845 2996 L902 2977 L925 2982 L926 2991 L854 3007 L845 3003 Z"/>
<path d="M852 2998 L905 2982 L920 2985" fill="none" stroke-width="2.5" stroke-dasharray="2 2"/>
<path d="M857 3003 L900 3048" fill="none" stroke-width="5"/>
<path d="M925 3055 L989 3040" fill="none" stroke-width="5"/>
</g>

<!-- p831.svg -->
<g stroke="#000" stroke-width="4" fill="#fff" stroke-linejoin="round">
<path d="M2178 322 L2230 292 Q2250 281 2266 286 Q2280 292 2291 302 Q2300 297 2312 299 Q2332 304 2346 320 L2344 330 L2282 376 L2240 362 L2222 356 L2179 338 Z"/>
<path d="M2291 302 L2229 344" stroke-width="3"/>
<path d="M2180 326 Q2205 330 2229 344 L2226 350 Q2205 338 2180 332 M2180 332 Q2210 340 2226 350 M2229 344 Q2255 344 2282 372 M2231 350 Q2260 352 2280 370" fill="none" stroke-width="3"/>
<path d="M2282 372 L2346 324" fill="none" stroke-width="3"/>
</g>

<!-- p_screws.svg -->
<g transform="translate(1630 1572) rotate(169.0)">
<path d="M4 -6.5 L35.8 -5.2 Q41.8 -3.2 41.8 0 Q41.8 3.2 35.8 5.2 L4 6.5 Z" fill="#000" stroke="#000" stroke-width="2"/>
<ellipse cx="10.0" cy="0" rx="1.6" ry="2.9" fill="#fff" stroke="none"/>
<ellipse cx="16.0" cy="0" rx="1.6" ry="2.9" fill="#fff" stroke="none"/>
<ellipse cx="22.0" cy="0" rx="1.6" ry="2.9" fill="#fff" stroke="none"/>
<ellipse cx="28.0" cy="0" rx="1.6" ry="2.9" fill="#fff" stroke="none"/>
<ellipse cx="0" cy="0" rx="9" ry="13" fill="#fff" stroke="#000" stroke-width="4.5"/>
<path d="M1.8 -10.4 Q-5.4 0 1.8 10.4" fill="none" stroke="#000" stroke-width="2.5"/>
</g>
<g transform="translate(1839 1843) rotate(165.1)">
<path d="M4 -6.5 L40.6 -5.2 Q46.6 -3.2 46.6 0 Q46.6 3.2 40.6 5.2 L4 6.5 Z" fill="#000" stroke="#000" stroke-width="2"/>
<ellipse cx="10.0" cy="0" rx="1.6" ry="2.9" fill="#fff" stroke="none"/>
<ellipse cx="16.0" cy="0" rx="1.6" ry="2.9" fill="#fff" stroke="none"/>
<ellipse cx="22.0" cy="0" rx="1.6" ry="2.9" fill="#fff" stroke="none"/>
<ellipse cx="28.0" cy="0" rx="1.6" ry="2.9" fill="#fff" stroke="none"/>
<ellipse cx="34.0" cy="0" rx="1.6" ry="2.9" fill="#fff" stroke="none"/>
<ellipse cx="0" cy="0" rx="9" ry="13" fill="#fff" stroke="#000" stroke-width="4.5"/>
<path d="M1.8 -10.4 Q-5.4 0 1.8 10.4" fill="none" stroke="#000" stroke-width="2.5"/>
</g>
<g transform="translate(1752 2049) rotate(165.7)">
<path d="M4 -6.5 L38.4 -5.2 Q44.4 -3.2 44.4 0 Q44.4 3.2 38.4 5.2 L4 6.5 Z" fill="#000" stroke="#000" stroke-width="2"/>
<ellipse cx="10.0" cy="0" rx="1.6" ry="2.9" fill="#fff" stroke="none"/>
<ellipse cx="16.0" cy="0" rx="1.6" ry="2.9" fill="#fff" stroke="none"/>
<ellipse cx="22.0" cy="0" rx="1.6" ry="2.9" fill="#fff" stroke="none"/>
<ellipse cx="28.0" cy="0" rx="1.6" ry="2.9" fill="#fff" stroke="none"/>
<ellipse cx="34.0" cy="0" rx="1.6" ry="2.9" fill="#fff" stroke="none"/>
<ellipse cx="0" cy="0" rx="9" ry="13" fill="#fff" stroke="#000" stroke-width="4.5"/>
<path d="M1.8 -10.4 Q-5.4 0 1.8 10.4" fill="none" stroke="#000" stroke-width="2.5"/>
</g>
<g transform="translate(2340 1700) rotate(164.4)">
<path d="M4 -6.5 L38.6 -5.2 Q44.6 -3.2 44.6 0 Q44.6 3.2 38.6 5.2 L4 6.5 Z" fill="#000" stroke="#000" stroke-width="2"/>
<ellipse cx="10.0" cy="0" rx="1.6" ry="2.9" fill="#fff" stroke="none"/>
<ellipse cx="16.0" cy="0" rx="1.6" ry="2.9" fill="#fff" stroke="none"/>
<ellipse cx="22.0" cy="0" rx="1.6" ry="2.9" fill="#fff" stroke="none"/>
<ellipse cx="28.0" cy="0" rx="1.6" ry="2.9" fill="#fff" stroke="none"/>
<ellipse cx="34.0" cy="0" rx="1.6" ry="2.9" fill="#fff" stroke="none"/>
<ellipse cx="0" cy="0" rx="9" ry="13" fill="#fff" stroke="#000" stroke-width="4.5"/>
<path d="M1.8 -10.4 Q-5.4 0 1.8 10.4" fill="none" stroke="#000" stroke-width="2.5"/>
</g>
<g transform="translate(201 2046) rotate(-13.2)">
<path d="M4 -5 L42.3 -4.0 Q48.3 -2.5 48.3 0 Q48.3 2.5 42.3 4.0 L4 5 Z" fill="#000" stroke="#000" stroke-width="2"/>
<ellipse cx="10.0" cy="0" rx="1.6" ry="2.2" fill="#fff" stroke="none"/>
<ellipse cx="16.0" cy="0" rx="1.6" ry="2.2" fill="#fff" stroke="none"/>
<ellipse cx="22.0" cy="0" rx="1.6" ry="2.2" fill="#fff" stroke="none"/>
<ellipse cx="28.0" cy="0" rx="1.6" ry="2.2" fill="#fff" stroke="none"/>
<ellipse cx="34.0" cy="0" rx="1.6" ry="2.2" fill="#fff" stroke="none"/>
<ellipse cx="40.0" cy="0" rx="1.6" ry="2.2" fill="#fff" stroke="none"/>
<ellipse cx="0" cy="0" rx="9" ry="12" fill="#fff" stroke="#000" stroke-width="4.5"/>
<path d="M1.8 -9.6 Q-5.4 0 1.8 9.6" fill="none" stroke="#000" stroke-width="2.5"/>
</g>
<g transform="translate(178 2200) rotate(-13.2)">
<path d="M4 -5 L42.3 -4.0 Q48.3 -2.5 48.3 0 Q48.3 2.5 42.3 4.0 L4 5 Z" fill="#000" stroke="#000" stroke-width="2"/>
<ellipse cx="10.0" cy="0" rx="1.6" ry="2.2" fill="#fff" stroke="none"/>
<ellipse cx="16.0" cy="0" rx="1.6" ry="2.2" fill="#fff" stroke="none"/>
<ellipse cx="22.0" cy="0" rx="1.6" ry="2.2" fill="#fff" stroke="none"/>
<ellipse cx="28.0" cy="0" rx="1.6" ry="2.2" fill="#fff" stroke="none"/>
<ellipse cx="34.0" cy="0" rx="1.6" ry="2.2" fill="#fff" stroke="none"/>
<ellipse cx="40.0" cy="0" rx="1.6" ry="2.2" fill="#fff" stroke="none"/>
<ellipse cx="0" cy="0" rx="9" ry="12" fill="#fff" stroke="#000" stroke-width="4.5"/>
<path d="M1.8 -9.6 Q-5.4 0 1.8 9.6" fill="none" stroke="#000" stroke-width="2.5"/>
</g>
</svg></body></html>
